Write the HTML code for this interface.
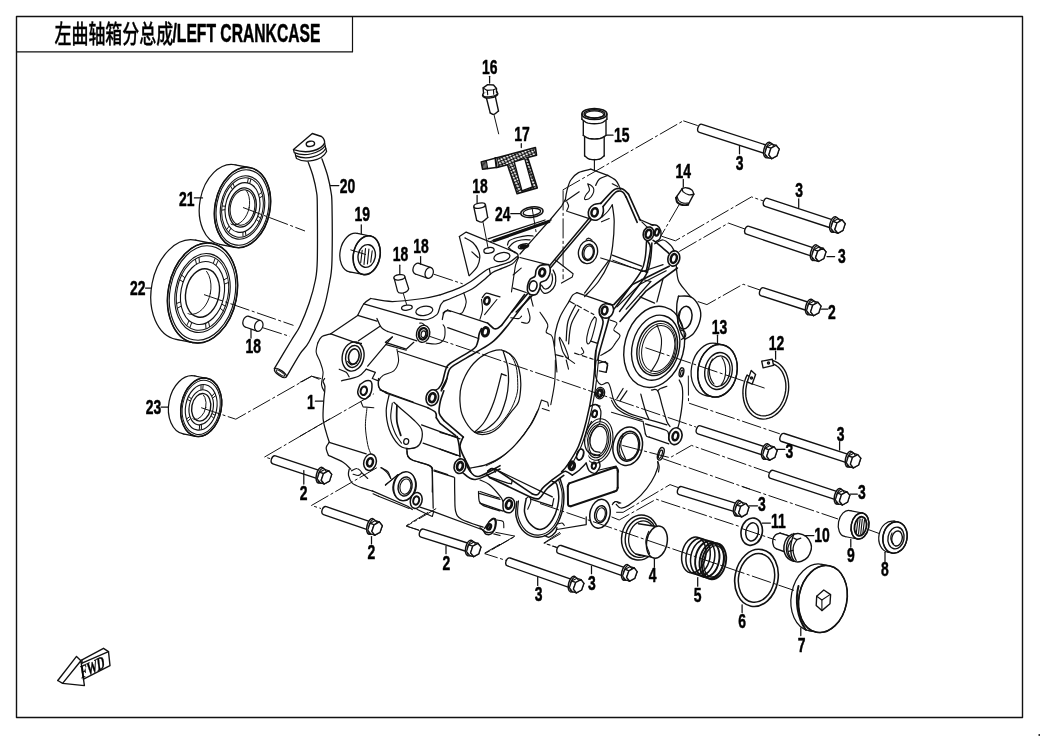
<!DOCTYPE html>
<html><head><meta charset="utf-8"><title>左曲轴箱分总成/LEFT CRANKCASE</title>
<style>
html,body{margin:0;padding:0;background:#fff;}
body{width:1040px;height:736px;overflow:hidden;}
svg{display:block;will-change:transform;}
svg *{stroke:#111;stroke-linecap:round;stroke-linejoin:round;}
svg text{stroke:#000;stroke-width:0.5px;fill:#000;font-family:"Liberation Sans","Noto Sans CJK SC",sans-serif;font-weight:bold;}
.cl{stroke-dasharray:20 2.5 3 2.5;stroke-linecap:butt;}
.nf{fill:none;}
</style></head><body>
<svg width="1040" height="736" viewBox="0 0 1040 736" fill="none">
<rect x="16.5" y="16.5" width="1006" height="701" stroke-width="1.4"/>
<path d="M16.5,51.9 H352.5 V16.5" stroke-width="1.2"/>
<text transform="translate(54.5,42.6) scale(0.665,1)" font-size="25.5" style="font-weight:500;stroke-width:0.35px">左曲轴箱分总成</text>
<text transform="translate(172.5,41.8) scale(0.622,1)" font-size="25.2" style="font-weight:bold">/LEFT CRANKCASE</text>
<rect x="1038.5" y="734" width="1.5" height="2" fill="#333" style="stroke:none"/>
<path d="M62.6,683.4 L80.9,660.8 L84.4,685.6 Z" fill="#fff" stroke-width="1.38"/>
<path d="M57.8,680.5 L76.5,656.4 L80.9,660.8" fill="none" stroke-width="1.38"/>
<path d="M57.8,680.5 L62.6,683.4" fill="none" stroke-width="1.38"/>
<path d="M82.0,663.2 L108.5,651.6 L110.0,665.6 L83.5,679.2" fill="none" stroke-width="1.38"/>
<path d="M76.5,656.4 L81.3,658.8" fill="none" stroke-width="0.00"/>
<path d="M82.0,659.8 L103.5,648.3 L108.5,651.6" fill="none" stroke-width="1.38"/>
<path d="M82.0,659.8 L82.0,663.2" fill="none" stroke-width="1.38"/>
<text transform="translate(81.5,678.6) rotate(-25) skewX(-18) scale(0.64,1)" font-size="17.5" style="font-family:'Liberation Serif',serif;font-weight:bold;stroke-width:0.4px">FWD</text>
<ellipse cx="185.8" cy="289.8" rx="34.3" ry="50.5" transform="rotate(11.0 185.8 289.8)" fill="#fff" stroke-width="1.25"/>
<path d="M192.9,342.6 L176.2,339.3 L195.4,240.2 L212.1,243.4 Z" fill="#fff" style="stroke:none"/>
<line x1="192.9" y1="342.6" x2="176.2" y2="339.3" stroke-width="1.25"/>
<line x1="212.1" y1="243.4" x2="195.4" y2="240.2" stroke-width="1.25"/>
<ellipse cx="202.5" cy="293.0" rx="34.3" ry="50.5" transform="rotate(11.0 202.5 293.0)" fill="#fff" stroke-width="1.25"/>
<ellipse cx="202.5" cy="293.0" rx="34.3" ry="50.5" transform="rotate(11.0 202.5 293.0)" fill="none" stroke-width="1.50" />
<ellipse cx="202.5" cy="293.0" rx="32.5" ry="47.7" transform="rotate(11.0 202.5 293.0)" fill="none" stroke-width="1.12" />
<ellipse cx="202.5" cy="293.0" rx="27.1" ry="39.9" transform="rotate(11.0 202.5 293.0)" fill="none" stroke-width="1.12" />
<ellipse cx="202.5" cy="293.0" rx="25.6" ry="37.6" transform="rotate(11.0 202.5 293.0)" fill="none" stroke-width="1.00" />
<ellipse cx="202.5" cy="293.0" rx="21.6" ry="31.8" transform="rotate(11.0 202.5 293.0)" fill="none" stroke-width="1.12" />
<ellipse cx="202.5" cy="293.0" rx="16.7" ry="24.5" transform="rotate(11.0 202.5 293.0)" fill="none" stroke-width="1.38" />
<line x1="222.1" y1="304.3" x2="225.2" y2="306.1" stroke-width="1.00"/>
<line x1="220.4" y1="308.4" x2="223.2" y2="310.8" stroke-width="1.00"/>
<line x1="208.6" y1="322.2" x2="209.6" y2="326.7" stroke-width="1.00"/>
<line x1="205.6" y1="323.7" x2="206.0" y2="328.5" stroke-width="1.00"/>
<line x1="191.6" y1="322.9" x2="189.9" y2="327.6" stroke-width="1.00"/>
<line x1="188.9" y1="321.1" x2="186.8" y2="325.4" stroke-width="1.00"/>
<line x1="180.9" y1="306.2" x2="177.5" y2="308.2" stroke-width="1.00"/>
<line x1="180.3" y1="302.0" x2="176.8" y2="303.4" stroke-width="1.00"/>
<line x1="182.9" y1="281.7" x2="179.8" y2="279.9" stroke-width="1.00"/>
<line x1="184.6" y1="277.6" x2="181.8" y2="275.2" stroke-width="1.00"/>
<line x1="196.4" y1="263.8" x2="195.4" y2="259.3" stroke-width="1.00"/>
<line x1="199.4" y1="262.3" x2="199.0" y2="257.5" stroke-width="1.00"/>
<line x1="213.4" y1="263.1" x2="215.1" y2="258.4" stroke-width="1.00"/>
<line x1="216.1" y1="264.9" x2="218.2" y2="260.6" stroke-width="1.00"/>
<line x1="224.1" y1="279.8" x2="227.5" y2="277.8" stroke-width="1.00"/>
<line x1="224.7" y1="284.0" x2="228.2" y2="282.6" stroke-width="1.00"/>
<clipPath id="c202_293"><ellipse cx="202.5" cy="293.0" rx="16.7" ry="24.5" transform="rotate(11 202.5 293.0)"/></clipPath>
<ellipse cx="194.0" cy="290.1" rx="16.7" ry="24.5" transform="rotate(11 194.0 290.1)" clip-path="url(#c202_293)" stroke-width="0.9"/>
<line x1="204.0" y1="294.6" x2="293.5" y2="325.4" stroke-width="1.00" class="cl"/>
<text transform="translate(130.0,295.0) scale(0.68,1)" font-size="20.5" text-anchor="start">22</text>
<line x1="145.5" y1="288.0" x2="151.0" y2="288.0" stroke-width="1.25"/>
<ellipse cx="227.3" cy="204.5" rx="27.5" ry="40.5" transform="rotate(11.0 227.3 204.5)" fill="#fff" stroke-width="1.25"/>
<path d="M234.8,247.3 L219.6,244.3 L235.0,164.8 L250.2,167.7 Z" fill="#fff" style="stroke:none"/>
<line x1="234.8" y1="247.3" x2="219.6" y2="244.3" stroke-width="1.25"/>
<line x1="250.2" y1="167.7" x2="235.0" y2="164.8" stroke-width="1.25"/>
<ellipse cx="242.5" cy="207.5" rx="27.5" ry="40.5" transform="rotate(11.0 242.5 207.5)" fill="#fff" stroke-width="1.25"/>
<ellipse cx="242.5" cy="207.5" rx="27.5" ry="40.5" transform="rotate(11.0 242.5 207.5)" fill="none" stroke-width="1.50" />
<ellipse cx="242.5" cy="207.5" rx="25.9" ry="38.1" transform="rotate(11.0 242.5 207.5)" fill="none" stroke-width="1.12" />
<ellipse cx="242.5" cy="207.5" rx="21.8" ry="32.0" transform="rotate(11.0 242.5 207.5)" fill="none" stroke-width="1.12" />
<ellipse cx="242.5" cy="207.5" rx="20.4" ry="30.0" transform="rotate(11.0 242.5 207.5)" fill="none" stroke-width="1.00" />
<ellipse cx="242.5" cy="207.5" rx="17.1" ry="25.1" transform="rotate(11.0 242.5 207.5)" fill="none" stroke-width="1.12" />
<ellipse cx="242.5" cy="207.5" rx="13.5" ry="19.8" transform="rotate(11.0 242.5 207.5)" fill="none" stroke-width="1.38" />
<line x1="258.0" y1="216.4" x2="260.4" y2="217.9" stroke-width="1.00"/>
<line x1="256.6" y1="219.6" x2="258.9" y2="221.6" stroke-width="1.00"/>
<line x1="245.4" y1="231.5" x2="245.9" y2="235.4" stroke-width="1.00"/>
<line x1="242.9" y1="232.4" x2="243.0" y2="236.3" stroke-width="1.00"/>
<line x1="230.7" y1="228.6" x2="228.8" y2="231.9" stroke-width="1.00"/>
<line x1="228.9" y1="226.4" x2="226.8" y2="229.4" stroke-width="1.00"/>
<line x1="224.8" y1="209.7" x2="222.0" y2="210.1" stroke-width="1.00"/>
<line x1="225.1" y1="206.2" x2="222.4" y2="206.0" stroke-width="1.00"/>
<line x1="232.3" y1="189.2" x2="230.7" y2="186.3" stroke-width="1.00"/>
<line x1="234.4" y1="186.9" x2="233.1" y2="183.7" stroke-width="1.00"/>
<line x1="247.5" y1="182.5" x2="248.3" y2="178.5" stroke-width="1.00"/>
<line x1="249.8" y1="183.2" x2="250.9" y2="179.3" stroke-width="1.00"/>
<line x1="258.9" y1="194.6" x2="261.5" y2="192.5" stroke-width="1.00"/>
<line x1="259.7" y1="197.8" x2="262.4" y2="196.2" stroke-width="1.00"/>
<clipPath id="c242_207"><ellipse cx="242.5" cy="207.5" rx="13.5" ry="19.8" transform="rotate(11 242.5 207.5)"/></clipPath>
<ellipse cx="235.9" cy="205.2" rx="13.5" ry="19.8" transform="rotate(11 235.9 205.2)" clip-path="url(#c242_207)" stroke-width="0.9"/>
<ellipse cx="242.5" cy="207.5" rx="12.1" ry="17.8" transform="rotate(11.0 242.5 207.5)" fill="none" stroke-width="1.00" />
<line x1="243.0" y1="207.5" x2="305.0" y2="231.0" stroke-width="1.00" class="cl"/>
<text transform="translate(179.0,205.5) scale(0.68,1)" font-size="20.5" text-anchor="start">21</text>
<line x1="194.4" y1="197.9" x2="202.5" y2="197.9" stroke-width="1.25"/>
<ellipse cx="188.9" cy="404.9" rx="20.1" ry="29.5" transform="rotate(11.0 188.9 404.9)" fill="#fff" stroke-width="1.25"/>
<path d="M195.6,436.3 L183.3,433.9 L194.6,376.0 L206.8,378.3 Z" fill="#fff" style="stroke:none"/>
<line x1="195.6" y1="436.3" x2="183.3" y2="433.9" stroke-width="1.25"/>
<line x1="206.8" y1="378.3" x2="194.6" y2="376.0" stroke-width="1.25"/>
<ellipse cx="201.2" cy="407.3" rx="20.1" ry="29.5" transform="rotate(11.0 201.2 407.3)" fill="#fff" stroke-width="1.25"/>
<ellipse cx="201.2" cy="407.3" rx="20.1" ry="29.5" transform="rotate(11.0 201.2 407.3)" fill="none" stroke-width="1.50" />
<ellipse cx="201.2" cy="407.3" rx="18.7" ry="27.4" transform="rotate(11.0 201.2 407.3)" fill="none" stroke-width="1.00" />
<ellipse cx="201.2" cy="407.3" rx="15.6" ry="23.0" transform="rotate(11.0 201.2 407.3)" fill="none" stroke-width="1.12" />
<ellipse cx="201.2" cy="407.3" rx="12.0" ry="17.7" transform="rotate(11.0 201.2 407.3)" fill="none" stroke-width="1.12" />
<ellipse cx="201.2" cy="407.3" rx="9.4" ry="13.9" transform="rotate(11.0 201.2 407.3)" fill="none" stroke-width="1.38" />
<line x1="212.3" y1="413.7" x2="214.8" y2="415.1" stroke-width="1.00"/>
<line x1="211.3" y1="416.0" x2="213.6" y2="418.0" stroke-width="1.00"/>
<line x1="201.4" y1="425.2" x2="201.4" y2="429.2" stroke-width="1.00"/>
<line x1="199.6" y1="425.4" x2="199.3" y2="429.5" stroke-width="1.00"/>
<line x1="190.3" y1="418.8" x2="187.8" y2="421.4" stroke-width="1.00"/>
<line x1="189.5" y1="416.7" x2="186.9" y2="418.8" stroke-width="1.00"/>
<line x1="190.1" y1="400.9" x2="187.6" y2="399.5" stroke-width="1.00"/>
<line x1="191.1" y1="398.6" x2="188.8" y2="396.6" stroke-width="1.00"/>
<line x1="201.0" y1="389.4" x2="201.0" y2="385.4" stroke-width="1.00"/>
<line x1="202.8" y1="389.2" x2="203.1" y2="385.1" stroke-width="1.00"/>
<line x1="212.1" y1="395.8" x2="214.6" y2="393.2" stroke-width="1.00"/>
<line x1="212.9" y1="397.9" x2="215.5" y2="395.8" stroke-width="1.00"/>
<clipPath id="c201_407"><ellipse cx="201.2" cy="407.3" rx="9.4" ry="13.9" transform="rotate(11 201.2 407.3)"/></clipPath>
<ellipse cx="196.5" cy="405.7" rx="9.4" ry="13.9" transform="rotate(11 196.5 405.7)" clip-path="url(#c201_407)" stroke-width="0.9"/>
<path d="M201.2,407.7 L235.8,419.2 L311.7,376.2 L319.4,379.4" fill="none" stroke-width="1.00" class="cl"/>
<text transform="translate(145.8,414.0) scale(0.68,1)" font-size="20.5" text-anchor="start">23</text>
<line x1="161.0" y1="407.0" x2="168.5" y2="407.0" stroke-width="1.25"/>
<path d="M308.1,161.9 C308.9,164.2 311.6,171.0 313.0,176.0 C314.4,181.0 315.8,187.2 316.5,192.0 C317.2,196.8 317.2,193.7 317.3,205.0 C317.4,216.3 317.6,247.5 317.3,260.0 C317.0,272.5 316.8,272.8 315.4,280.0 C314.0,287.2 311.8,295.3 309.2,303.0 C306.6,310.7 302.9,319.8 300.0,326.0 C297.1,332.2 295.8,332.9 291.5,340.0 C287.2,347.1 277.1,364.0 274.2,368.8" stroke-width="1.3"/>
<path d="M321.9,158.8 C322.9,161.7 326.2,170.5 327.7,176.0 C329.2,181.5 330.3,187.2 331.0,192.0 C331.7,196.8 331.8,193.7 332.0,205.0 C332.2,216.3 332.3,247.5 332.0,260.0 C331.7,272.5 331.5,271.5 330.0,280.0 C328.5,288.5 326.5,300.6 323.0,310.8 C319.5,321.1 313.0,334.3 309.2,341.5 C305.4,348.7 303.8,347.9 300.0,353.8 C296.2,359.7 288.7,373.0 286.4,376.8" stroke-width="1.3"/>
<ellipse cx="280.4" cy="373.0" rx="2.6" ry="7.0" transform="rotate(-55.0 280.4 373.0)" fill="none" stroke-width="1.25" />
<ellipse cx="280.4" cy="373.0" rx="1.4" ry="5.0" transform="rotate(-55.0 280.4 373.0)" fill="none" stroke-width="1.00" />
<path d="M293.5,149.6 L312.3,133.5 L321.5,136.5 C323.5,138 324.8,140.5 324.6,143.1 C321,150 308,154.5 293.5,149.6 Z" fill="#fff" stroke-width="1.38"/>
<path d="M293.5,149.6 L294.2,152.7 C305,157 319,153.5 325.2,145.8 L324.6,143.1" fill="none" stroke-width="1.25"/>
<path d="M295.2,153.3 L295.6,155.6 C306,160.5 321,156.5 325.8,148.5 L325.2,145.8" fill="none" stroke-width="1.25"/>
<path d="M295.6,155.6 L296.5,158.5 C306,164 322,160.5 326.6,151.5 L325.8,148.5" fill="none" stroke-width="1.25"/>
<ellipse cx="310.4" cy="143.8" rx="4.2" ry="2.6" transform="rotate(-10.0 310.4 143.8)" fill="none" stroke-width="1.38" />
<text transform="translate(339.8,192.7) scale(0.68,1)" font-size="20.5" text-anchor="start">20</text>
<line x1="330.4" y1="185.6" x2="338.8" y2="185.6" stroke-width="1.25"/>
<ellipse cx="353.4" cy="252.6" rx="13.3" ry="19.6" transform="rotate(11.0 353.4 252.6)" fill="#fff" stroke-width="1.25"/>
<path d="M363.0,274.4 L349.7,271.9 L357.2,233.4 L370.4,236.0 Z" fill="#fff" style="stroke:none"/>
<line x1="363.0" y1="274.4" x2="349.7" y2="271.9" stroke-width="1.25"/>
<line x1="370.4" y1="236.0" x2="357.2" y2="233.4" stroke-width="1.25"/>
<ellipse cx="366.7" cy="255.2" rx="13.3" ry="19.6" transform="rotate(11.0 366.7 255.2)" fill="#fff" stroke-width="1.25"/>
<ellipse cx="366.7" cy="255.2" rx="13.3" ry="19.6" transform="rotate(11.0 366.7 255.2)" fill="none" stroke-width="1.50" />
<ellipse cx="366.7" cy="256.0" rx="8.6" ry="11.5" transform="rotate(11.0 366.7 256.0)" fill="none" stroke-width="1.38" />
<line x1="362.2" y1="250.2" x2="360.7" y2="262.8" stroke-width="1.12"/>
<line x1="365.5" y1="248.6" x2="364.0" y2="264.4" stroke-width="1.12"/>
<line x1="368.9" y1="249.1" x2="367.4" y2="263.9" stroke-width="1.12"/>
<line x1="372.2" y1="250.8" x2="370.7" y2="262.2" stroke-width="1.12"/>
<line x1="350.4" y1="249.8" x2="366.0" y2="254.6" stroke-width="1.00" class="cl"/>
<text transform="translate(354.6,221.0) scale(0.68,1)" font-size="20.5" text-anchor="start">19</text>
<line x1="361.3" y1="224.8" x2="361.3" y2="233.5" stroke-width="1.25"/>
<ellipse cx="247.0" cy="321.7" rx="4.0" ry="5.6" transform="rotate(19.0 247.0 321.7)" fill="#fff" stroke-width="1.25"/>
<path d="M257.0,331.1 L245.2,327.0 L248.8,316.4 L260.6,320.5 Z" fill="#fff" style="stroke:none"/>
<line x1="257.0" y1="331.1" x2="245.2" y2="327.0" stroke-width="1.25"/>
<line x1="260.6" y1="320.5" x2="248.8" y2="316.4" stroke-width="1.25"/>
<ellipse cx="258.8" cy="325.8" rx="4.0" ry="5.6" transform="rotate(19.0 258.8 325.8)" fill="#fff" stroke-width="1.25"/>
<line x1="262.7" y1="327.7" x2="289.6" y2="336.3" stroke-width="1.00" class="cl"/>
<text transform="translate(245.4,353.0) scale(0.68,1)" font-size="20.5" text-anchor="start">18</text>
<line x1="251.0" y1="329.6" x2="251.0" y2="338.0" stroke-width="1.25"/>
<ellipse cx="417.1" cy="268.7" rx="4.0" ry="5.6" transform="rotate(19.0 417.1 268.7)" fill="#fff" stroke-width="1.25"/>
<path d="M427.4,278.2 L415.3,274.0 L418.9,263.4 L431.0,267.6 Z" fill="#fff" style="stroke:none"/>
<line x1="427.4" y1="278.2" x2="415.3" y2="274.0" stroke-width="1.25"/>
<line x1="431.0" y1="267.6" x2="418.9" y2="263.4" stroke-width="1.25"/>
<ellipse cx="429.2" cy="272.9" rx="4.0" ry="5.6" transform="rotate(19.0 429.2 272.9)" fill="#fff" stroke-width="1.25"/>
<text transform="translate(413.3,253.0) scale(0.68,1)" font-size="20.5" text-anchor="start">18</text>
<line x1="420.6" y1="256.5" x2="420.6" y2="264.2" stroke-width="1.25"/>
<path d="M394,277.7 L397.5,291.2 C399,294.5 407,293.5 408.7,288.8 L404.8,276.7" fill="#fff" stroke-width="1.25"/>
<ellipse cx="399.4" cy="277.3" rx="5.5" ry="2.6" transform="rotate(-8.0 399.4 277.3)" fill="#fff" stroke-width="1.25" />
<line x1="403.3" y1="293.4" x2="406.6" y2="304.5" stroke-width="1.00"/>
<text transform="translate(392.7,261.3) scale(0.68,1)" font-size="20.5" text-anchor="start">18</text>
<line x1="399.8" y1="265.2" x2="399.8" y2="273.8" stroke-width="1.25"/>
<path d="M459.4,236.6 L466.2,232.1 L515.0,252.2" fill="none" stroke-width="1.25"/>
<path d="M515.0,252.2 C515.5,252.6 517.2,253.5 517.8,254.4 C518.3,255.2 518.1,257.0 518.1,257.5" fill="none" stroke-width="1.25"/>
<path d="M459.4,236.6 L469.0,275.6" fill="none" stroke-width="1.25"/>
<path d="M465.0,237.9 C466.3,238.6 470.6,240.5 472.8,242.5 C474.9,244.5 477.0,247.5 478.1,250.0 C479.3,252.5 479.9,254.8 479.8,257.5 C479.6,260.2 479.2,263.2 477.5,266.2 C475.8,269.3 470.7,274.1 469.4,275.6" fill="none" stroke-width="1.25"/>
<path d="M471.9,251.9 L478.1,257.5" fill="none" stroke-width="1.25"/>
<path d="M517.5,256.2 C516.2,257.2 513.1,260.3 510.0,261.9 C506.9,263.4 502.3,264.5 498.8,265.6 C495.2,266.8 491.7,267.4 488.8,268.8 C485.8,270.1 484.2,271.7 481.2,273.8 C478.3,275.8 475.0,278.9 471.2,281.2 C467.5,283.6 464.0,285.8 458.8,288.1 C453.5,290.4 443.1,293.9 440.0,295.0" fill="none" stroke-width="1.25"/>
<path d="M518.1,257.5 C517.2,258.5 515.1,262.0 512.5,263.8 C509.9,265.5 505.8,266.7 502.5,268.1 C499.2,269.6 495.6,270.5 492.5,272.5 C489.4,274.5 487.1,277.3 483.8,280.0 C480.4,282.7 477.1,286.0 472.5,288.8 C467.9,291.5 461.0,294.2 456.2,296.2 C451.5,298.3 445.8,300.4 443.8,301.2" fill="none" stroke-width="1.25"/>
<path d="M489.4,269.4 L490.4,274.4" fill="none" stroke-width="1.25"/>
<ellipse cx="489.0" cy="250.4" rx="5.2" ry="2.8" transform="rotate(-10.0 489.0 250.4)" fill="none" stroke-width="1.25"/>
<ellipse cx="501.9" cy="257.1" rx="8.1" ry="4.4" transform="rotate(-12.0 501.9 257.1)" fill="none" stroke-width="1.25"/>
<path d="M483.1,222.5 L488.1,248.1" fill="none" stroke-width="1.00"/>
<path d="M488.1,238.8 L545.0,220.0" fill="none" stroke-width="1.25"/>
<path d="M490.6,241.5 L551.2,220.0" fill="none" stroke-width="1.25"/>
<path d="M494.0,240.8 L548.8,221.5" fill="none" stroke-width="3.25"/>
<ellipse cx="523.5" cy="246.2" rx="5.2" ry="2.1" transform="rotate(-15.0 523.5 246.2)" fill="none" stroke-width="1.50"/>
<ellipse cx="523.5" cy="246.5" rx="2.8" ry="1.0" transform="rotate(-15.0 523.5 246.5)" fill="none" stroke-width="2.00"/>
<path d="M507.5,245.0 C507.8,244.3 507.7,241.9 509.4,240.6 C511.0,239.4 514.5,238.3 517.5,237.5 C520.5,236.7 524.9,235.9 527.5,235.6 C530.1,235.4 532.2,235.9 533.1,236.0" fill="none" stroke-width="1.25"/>
<path d="M508.5,247.8 C509.4,246.9 511.6,243.8 513.8,242.5 C515.9,241.2 518.5,240.5 521.2,240.0 C524.0,239.5 528.5,239.8 530.0,239.8" fill="none" stroke-width="1.25"/>
<path d="M515.0,252.8 C514.4,252.3 512.3,250.8 511.2,250.0 C510.2,249.2 509.0,248.1 508.5,247.8" fill="none" stroke-width="1.25"/>
<path d="M520.0,254.0 L535.0,236.9 L550.0,220.0 L561.8,205.8 L565.0,200.0" fill="none" stroke-width="1.25"/>
<path d="M520.0,257.5 L547.5,264.6" fill="none" stroke-width="1.25"/>
<path d="M518.5,257.5 C518.0,258.8 516.4,262.1 515.6,265.0 C514.9,267.9 514.7,270.5 514.0,275.0 C513.3,279.5 511.9,289.1 511.5,291.9" fill="none" stroke-width="1.12"/>
<path d="M513.1,275.0 L521.2,268.1" fill="none" stroke-width="1.12"/>
<path d="M513.1,288.1 L526.2,292.5" fill="none" stroke-width="1.25"/>
<path d="M547.5,264.6 C546.0,264.7 541.9,264.7 540.0,265.6 C538.1,266.5 537.1,268.2 536.2,270.0 C535.4,271.8 536.0,274.7 535.0,276.2 C534.0,277.8 531.2,277.7 530.0,279.4 C528.8,281.0 527.8,284.1 527.5,286.2 C527.2,288.4 527.4,291.0 528.1,292.5 C528.9,294.0 530.4,294.8 531.9,295.0 C533.3,295.2 535.5,295.0 536.9,293.8 C538.2,292.5 539.4,289.4 540.0,287.5 C540.6,285.6 539.6,283.8 540.6,282.5 C541.7,281.2 544.8,281.2 546.2,280.0 C547.7,278.8 548.7,276.9 549.4,275.0 C550.0,273.1 550.4,270.4 550.2,268.8 C550.1,267.1 549.2,265.7 548.8,265.0 C548.3,264.3 549.0,264.5 547.5,264.6 Z" fill="#fff" stroke-width="1.62"/>
<ellipse cx="542.2" cy="272.5" rx="2.8" ry="3.8" transform="rotate(15.0 542.2 272.5)" fill="none" stroke-width="2.75"/>
<ellipse cx="533.1" cy="286.0" rx="3.8" ry="5.2" transform="rotate(15.0 533.1 286.0)" fill="none" stroke-width="1.62"/>
<path d="M540.0,288.1 C540.6,289.0 542.1,292.6 543.8,293.1 C545.4,293.7 548.1,292.9 550.0,291.5 C551.9,290.1 554.1,287.5 555.0,285.0 C555.9,282.5 555.9,278.8 555.6,276.2 C555.3,273.8 553.5,271.0 553.1,270.0" fill="none" stroke-width="1.25"/>
<path d="M541.5,285.2 C542.1,285.9 543.6,288.8 545.0,289.0 C546.4,289.2 548.8,288.0 550.0,286.5 C551.2,285.0 552.2,282.1 552.5,280.0 C552.8,277.9 552.0,274.8 551.9,273.8" fill="none" stroke-width="1.25"/>
<path d="M511.9,312.0 L527.5,293.8" fill="none" stroke-width="1.62"/>
<path d="M516.2,312.0 L532.8,295.0" fill="none" stroke-width="1.62"/>
<path d="M530.6,296.5 L533.1,306.2" fill="none" stroke-width="1.12"/>
<path d="M565.4,199.7 C565.6,198.2 566.0,194.1 566.9,190.8 C567.8,187.5 568.8,183.0 570.8,180.0 C572.7,177.0 575.1,174.4 578.5,172.6 C581.8,170.8 588.7,169.8 590.8,169.2" fill="none" stroke-width="1.25"/>
<path d="M590.8,169.2 L607.7,175.4" fill="none" stroke-width="1.25"/>
<path d="M607.7,175.4 C609.0,176.2 613.5,178.2 615.4,180.0 C617.3,181.8 618.4,184.6 619.2,186.2 C620.1,187.7 620.1,189.0 620.3,189.5" fill="none" stroke-width="1.25"/>
<path d="M595.7,185.4 C596.3,184.4 597.2,180.9 599.2,179.2 C601.2,177.6 606.3,176.0 607.7,175.4" fill="none" stroke-width="1.25"/>
<path d="M612.3,183.8 L617.7,186.5" fill="none" stroke-width="1.25"/>
<path d="M587.7,183.8 C588.3,184.2 590.5,184.9 591.5,185.8 C592.6,186.7 593.7,187.8 593.8,189.2 C594.0,190.7 593.4,193.0 592.6,194.6 C591.8,196.2 590.3,198.0 588.9,198.8 C587.6,199.5 585.1,199.9 584.6,199.2 C584.2,198.5 585.3,196.2 586.2,194.6 C587.0,193.1 589.3,191.8 589.5,190.0 C589.8,188.2 588.0,184.9 587.7,183.8" fill="none" stroke-width="1.12"/>
<path d="M565.4,201.2 L579.2,191.8" fill="none" stroke-width="1.25"/>
<path d="M566.9,201.8 C567.2,202.6 568.7,204.6 568.6,206.2 C568.5,207.7 566.8,210.3 566.5,211.1" fill="none" stroke-width="1.12"/>
<path d="M567.7,211.5 L590.8,219.2" fill="none" stroke-width="1.25"/>
<path d="M600.8,203.4 C602.7,201.3 609.6,193.5 612.3,191.1 C615.0,188.6 615.1,188.9 616.9,188.6 C618.7,188.3 621.2,188.3 623.1,189.2 C625.0,190.2 627.6,193.3 628.5,194.2" fill="none" stroke-width="1.62"/>
<path d="M628.5,194.2 L640.3,220.3" fill="none" stroke-width="1.62"/>
<path d="M603.1,206.5 C604.9,204.3 611.6,196.1 614.2,193.5 C616.7,191.0 617.0,191.3 618.5,191.1 C619.9,190.9 621.8,191.3 623.1,192.3 C624.4,193.3 625.6,196.4 626.2,197.2" fill="none" stroke-width="1.62"/>
<path d="M626.2,197.2 L637.2,222.3" fill="none" stroke-width="1.62"/>
<path d="M600.8,203.4 C599.6,203.6 595.8,203.6 593.8,204.6 C591.9,205.6 590.1,207.4 589.2,209.2 C588.3,211.0 588.1,213.7 588.5,215.4 C588.8,217.1 590.1,218.6 591.5,219.4 C593.0,220.2 595.6,220.4 597.2,220.0 C598.9,219.6 600.5,218.3 601.5,216.9 C602.6,215.5 603.1,213.3 603.4,211.5 C603.6,209.8 603.1,207.3 603.1,206.5" fill="none" stroke-width="1.62"/>
<ellipse cx="594.6" cy="212.3" rx="3.1" ry="4.2" transform="rotate(15.0 594.6 212.3)" fill="none" stroke-width="2.50"/>
<path d="M589.8,217.4 L549.7,265.5" fill="none" stroke-width="1.50"/>
<path d="M591.4,219.5 L550.6,267.7" fill="none" stroke-width="1.50"/>
<path d="M601.8,217.2 C602.8,216.3 605.9,213.6 607.7,211.5 C609.4,209.5 611.5,206.0 612.3,204.9" fill="none" stroke-width="1.12"/>
<path d="M612.3,204.9 C612.6,207.7 614.1,214.7 614.2,221.5 C614.2,228.4 613.5,239.2 612.6,246.2 C611.7,253.1 611.1,257.2 608.8,263.1 C606.4,269.0 602.5,275.9 598.5,281.5 C594.4,287.1 586.9,294.1 584.6,296.6" fill="none" stroke-width="1.25"/>
<path d="M601.5,221.8 L609.2,218.5" fill="none" stroke-width="1.12"/>
<path d="M650.8,224.6 C651.8,224.7 655.3,224.4 656.9,225.4 C658.6,226.4 660.3,228.6 660.8,230.8 C661.3,232.9 660.9,236.6 660.0,238.5 C659.1,240.3 656.2,241.3 655.4,241.8" fill="none" stroke-width="1.50"/>
<ellipse cx="656.9" cy="232.3" rx="2.0" ry="3.4" transform="rotate(15.0 656.9 232.3)" fill="none" stroke-width="2.25"/>
<ellipse cx="648.5" cy="233.8" rx="5.2" ry="6.9" transform="rotate(15.0 648.5 233.8)" fill="#fff" stroke-width="1.62"/>
<ellipse cx="648.5" cy="233.8" rx="2.8" ry="4.2" transform="rotate(15.0 648.5 233.8)" fill="none" stroke-width="2.50"/>
<path d="M639.2,219.2 L653.1,225.4" fill="none" stroke-width="1.25"/>
<path d="M641.8,221.8 L647.7,227.7" fill="none" stroke-width="1.12"/>
<ellipse cx="673.8" cy="258.5" rx="5.8" ry="7.7" transform="rotate(15.0 673.8 258.5)" fill="#fff" stroke-width="1.62"/>
<ellipse cx="673.8" cy="258.5" rx="2.9" ry="4.5" transform="rotate(15.0 673.8 258.5)" fill="none" stroke-width="2.50"/>
<path d="M653.1,240.3 C654.0,241.0 655.9,242.2 658.5,244.3 C661.0,246.4 666.8,251.6 668.5,253.1" fill="none" stroke-width="1.62"/>
<path d="M647.7,241.5 C648.2,242.7 650.7,243.4 650.5,248.5 C650.2,253.5 646.9,268.1 646.2,272.0" fill="none" stroke-width="1.62"/>
<path d="M654.6,243.8 C656.0,243.2 660.4,239.7 663.1,240.0 C665.8,240.3 668.9,243.6 670.8,245.4 C672.6,247.2 673.6,249.9 674.2,250.8" fill="none" stroke-width="1.25"/>
<ellipse cx="588.0" cy="252.0" rx="9.5" ry="11.7" transform="rotate(12.0 588.0 252.0)" fill="none" stroke-width="1.38"/>
<ellipse cx="588.3" cy="252.3" rx="5.8" ry="8.2" transform="rotate(12.0 588.3 252.3)" fill="none" stroke-width="1.50"/>
<ellipse cx="588.6" cy="252.6" rx="4.6" ry="6.9" transform="rotate(12.0 588.6 252.6)" fill="none" stroke-width="1.25"/>
<path d="M586.2,239.4 C586.7,239.2 588.3,238.0 589.2,238.2 C590.2,238.3 591.5,239.9 592.0,240.3" fill="none" stroke-width="1.12"/>
<path d="M600.8,258.0 L647.7,272.3" fill="none" stroke-width="1.25"/>
<path d="M612.3,255.1 L641.5,266.2" fill="none" stroke-width="1.25"/>
<clipPath id="cpbore"><path d="M622,300 L700,290 L700,420 L600,420 L608,372 L612,340 Z"/></clipPath>
<g clip-path="url(#cpbore)">
<ellipse cx="654.2" cy="346.9" rx="29.5" ry="41.2" transform="rotate(15.0 654.2 346.9)" fill="none" stroke-width="1.38"/>
<ellipse cx="655.7" cy="347.7" rx="23.4" ry="33.1" transform="rotate(15.0 655.7 347.7)" fill="none" stroke-width="1.38"/>
<ellipse cx="657.2" cy="348.2" rx="19.7" ry="27.7" transform="rotate(15.0 657.2 348.2)" fill="none" stroke-width="1.50"/>
<ellipse cx="657.5" cy="348.5" rx="17.8" ry="25.5" transform="rotate(15.0 657.5 348.5)" fill="none" stroke-width="1.00"/>
<ellipse cx="658.2" cy="348.5" rx="16.0" ry="23.4" transform="rotate(15.0 658.2 348.5)" fill="none" stroke-width="1.00"/>
</g>
<path d="M656.9,324.6 C657.7,327.2 661.3,334.4 661.5,340.0 C661.8,345.6 660.3,353.1 658.5,358.5 C656.7,363.8 652.1,369.7 650.8,372.0" fill="none" stroke-width="1.12"/>
<path d="M612.3,304.9 C611.2,304.7 607.3,303.5 605.4,303.7 C603.5,303.9 601.8,304.7 600.8,306.2 C599.7,307.6 599.0,310.5 599.2,312.3 C599.5,314.2 600.6,316.4 602.3,317.2 C604.0,318.1 607.4,318.3 609.2,317.2 C611.1,316.2 613.0,312.8 613.5,310.8 C614.1,308.7 612.5,305.9 612.3,304.9" fill="#fff" stroke-width="1.62"/>
<ellipse cx="604.6" cy="310.5" rx="2.8" ry="4.0" transform="rotate(15.0 604.6 310.5)" fill="none" stroke-width="2.50"/>
<path d="M669.2,266.2 L638.5,281.5 L632.3,284.6 L613.8,304.6" fill="none" stroke-width="1.62"/>
<path d="M677.4,268.0 L646.2,290.8 L620.0,321.5" fill="none" stroke-width="1.62"/>
<path d="M666.2,270.8 L640.0,284.3 L616.9,306.9" fill="none" stroke-width="1.25"/>
<path d="M650.8,281.5 L626.2,309.2" fill="none" stroke-width="1.25"/>
<path d="M641.5,279.2 L650.8,281.5" fill="none" stroke-width="1.12"/>
<path d="M569.2,301.1 C569.8,300.1 571.3,296.5 572.6,295.1 C573.9,293.7 576.2,293.0 576.9,292.6" fill="none" stroke-width="1.25"/>
<path d="M576.9,292.6 L612.3,304.9" fill="none" stroke-width="1.25"/>
<path d="M584.6,293.1 L608.5,260.8" fill="none" stroke-width="1.25"/>
<path d="M569.2,301.1 C567.7,303.7 562.3,311.7 560.0,316.9 C557.7,322.1 556.3,327.4 555.4,332.3 C554.5,337.2 554.7,343.8 554.6,346.2" fill="none" stroke-width="1.25"/>
<path d="M575.7,304.9 C574.4,307.7 569.6,315.6 568.0,321.5 C566.4,327.5 566.5,337.6 566.2,340.8" fill="none" stroke-width="1.25"/>
<path d="M578.8,309.5 C577.5,312.1 572.8,318.9 571.1,324.6 C569.4,330.3 569.0,340.6 568.6,343.8" fill="none" stroke-width="1.25"/>
<g stroke-dasharray="5 3">
<path d="M570.0,301.5 L593.8,314.6" fill="none" stroke-width="1.12"/>
<path d="M574.6,353.1 L593.1,359.2" fill="none" stroke-width="1.12"/>
</g>
<path d="M594.6,316.9 C594.0,317.9 592.1,319.7 590.8,323.1 C589.5,326.4 587.4,333.5 586.9,336.9 C586.4,340.4 587.0,343.3 587.7,343.8 C588.4,344.4 589.8,343.2 591.1,340.0 C592.4,336.8 594.5,328.2 595.4,324.6 C596.3,321.1 596.4,320.1 596.3,318.8 C596.2,317.5 594.9,317.2 594.6,316.9" fill="none" stroke-width="1.12"/>
<path d="M590.8,341.1 L597.7,343.4" fill="none" stroke-width="1.12"/>
<path d="M599.7,314.2 C600.3,315.4 602.9,318.5 603.1,321.5 C603.3,324.6 602.0,327.2 600.8,332.3 C599.5,337.4 596.7,345.7 595.7,352.3 C594.7,358.9 594.9,368.7 594.8,372.0" fill="none" stroke-width="1.62"/>
<path d="M609.2,317.2 C608.5,320.0 606.3,328.0 604.6,333.8 C603.0,339.7 600.5,347.9 599.4,352.3 C598.3,356.7 598.1,358.7 597.8,360.0" fill="none" stroke-width="1.62"/>
<path d="M610.0,320.0 C611.2,320.5 616.3,321.4 616.9,323.1 C617.6,324.7 613.3,327.9 613.8,330.0 C614.4,332.1 619.7,333.2 620.0,335.4 C620.3,337.6 616.9,340.8 615.4,343.1 C613.8,345.4 613.2,347.2 610.8,349.2 C608.3,351.3 602.4,354.4 600.8,355.4" fill="none" stroke-width="1.12"/>
<path d="M597.8,360.0 L607.7,363.4 L606.2,372.0" fill="none" stroke-width="1.25"/>
<path d="M540.0,312.3 C541.3,314.4 546.7,321.3 547.7,324.6 C548.7,327.9 545.4,330.3 546.2,332.3 C546.9,334.4 550.8,333.1 552.3,336.9 C553.8,340.8 554.6,349.5 555.4,355.4 C556.2,361.2 556.7,369.2 556.9,372.0" fill="none" stroke-width="1.12"/>
<path d="M559.2,338.5 C559.9,340.8 561.5,349.0 563.1,352.3 C564.6,355.6 568.2,359.5 568.5,358.5 C568.7,357.4 566.0,349.6 564.6,346.2 C563.2,342.7 560.9,339.0 560.0,337.7 C559.1,336.4 559.4,338.3 559.2,338.5" fill="none" stroke-width="1.12"/>
<path d="M555.4,354.6 L563.1,356.6" fill="none" stroke-width="1.12"/>
<path d="M565.4,356.9 L574.6,363.4" fill="none" stroke-width="1.12"/>
<path d="M581.5,347.7 C581.9,348.5 584.0,351.2 583.8,352.3 C583.7,353.5 581.3,354.2 580.8,354.6" fill="none" stroke-width="1.12"/>
<path d="M555.4,260.0 L573.1,273.8 L572.3,276.9 L561.5,283.1" fill="none" stroke-width="1.12"/>
<path d="M676.2,265.4 C676.5,267.9 676.8,276.4 678.5,280.8 C680.1,285.1 684.1,288.8 686.2,291.5 C688.2,294.2 690.0,296.0 690.8,296.9" fill="none" stroke-width="1.25"/>
<path d="M678.5,296.2 C680.5,296.3 687.3,295.1 690.8,296.9 C694.2,298.7 697.6,303.2 699.2,306.9 C700.8,310.6 701.2,314.9 700.3,319.2 C699.4,323.6 696.5,329.7 693.8,333.1 C691.2,336.5 686.2,338.5 684.6,339.5" fill="none" stroke-width="1.38"/>
<path d="M678.5,296.2 C678.2,297.4 677.2,300.8 676.9,303.8 C676.7,306.9 676.4,310.3 676.9,314.6 C677.4,319.0 678.7,325.8 680.0,330.0 C681.3,334.2 683.8,337.9 684.6,339.5" fill="none" stroke-width="1.38"/>
<ellipse cx="684.9" cy="317.7" rx="6.9" ry="11.5" transform="rotate(11.0 684.9 317.7)" fill="none" stroke-width="1.50"/>
<path d="M680.3,311.5 C680.1,312.8 678.9,316.7 679.2,319.2 C679.6,321.8 681.8,325.6 682.3,326.9" fill="none" stroke-width="1.12"/>
<path d="M680.8,330.0 C681.4,330.3 683.8,330.5 684.6,331.5 C685.4,332.6 686.1,334.8 685.5,336.2 C685.0,337.5 682.2,339.0 681.5,339.5" fill="none" stroke-width="1.25"/>
<path d="M663.1,278.5 L656.9,301.8" fill="none" stroke-width="1.25"/>
<path d="M640.0,296.9 L654.6,303.1" fill="none" stroke-width="1.25"/>
<path d="M612.3,260.0 L642.3,271.5" fill="none" stroke-width="1.00" class="cl"/>
<path d="M642.3,271.5 L663.1,264.6" fill="none" stroke-width="1.12"/>
<ellipse cx="423.1" cy="333.8" rx="6.6" ry="8.6" transform="rotate(12.0 423.1 333.8)" fill="#fff" stroke-width="1.38"/>
<ellipse cx="423.1" cy="333.8" rx="4.3" ry="5.8" transform="rotate(12.0 423.1 333.8)" fill="none" stroke-width="2.25"/>
<ellipse cx="423.4" cy="334.2" rx="2.3" ry="3.4" transform="rotate(12.0 423.4 334.2)" fill="none" stroke-width="1.25"/>
<path d="M419.7,323.1 C420.1,323.1 421.6,322.9 422.3,323.2 C423.1,323.5 423.8,324.6 424.2,324.9" fill="none" stroke-width="1.12"/>
<path d="M426.2,343.1 C427.9,343.2 434.0,344.5 436.9,343.8 C439.9,343.2 442.5,341.8 443.8,339.2 C445.2,336.7 445.1,330.9 444.9,328.5 C444.8,326.1 443.4,325.4 443.1,324.8" fill="none" stroke-width="1.12"/>
<path d="M447.7,310.0 L487.7,323.1" fill="none" stroke-width="1.25"/>
<path d="M447.7,310.0 C447.1,310.5 444.7,311.5 443.8,313.1 C442.9,314.7 442.6,318.5 442.3,319.5" fill="none" stroke-width="1.25"/>
<path d="M447.7,327.7 L478.5,338.5" fill="none" stroke-width="1.25"/>
<path d="M487.7,323.1 C488.7,324.0 492.2,327.6 493.8,328.5 C495.5,329.3 496.4,328.7 497.7,328.2 C499.0,327.6 500.9,325.8 501.5,325.4" fill="none" stroke-width="1.62"/>
<ellipse cx="485.4" cy="331.8" rx="3.1" ry="4.3" transform="rotate(15.0 485.4 331.8)" fill="none" stroke-width="3.00"/>
<path d="M501.5,325.4 L524.6,294.6" fill="none" stroke-width="1.62"/>
<path d="M530.0,296.2 C526.3,301.0 513.7,317.9 507.7,325.4 C501.7,332.8 499.1,336.3 493.8,340.8 C488.6,345.3 482.8,348.2 476.2,352.3 C469.5,356.4 458.4,362.3 453.8,365.4 C449.3,368.5 450.3,367.9 448.9,370.8 C447.6,373.6 447.1,379.0 445.8,382.3 C444.6,385.6 442.0,389.4 441.2,390.8" fill="none" stroke-width="1.62"/>
<path d="M478.5,338.9 C478.1,340.1 477.4,344.2 476.2,346.2 C474.9,348.1 475.1,347.9 470.8,350.8 C466.4,353.7 454.2,360.5 450.0,363.5 C445.8,366.6 447.1,366.1 445.8,369.2 C444.6,372.4 443.5,379.1 442.3,382.3 C441.1,385.5 440.0,387.1 438.5,388.5 C436.9,389.9 434.0,390.4 433.1,390.8" fill="none" stroke-width="1.62"/>
<path d="M478.5,338.9 C478.6,338.1 478.7,335.6 479.2,333.8 C479.7,332.1 481.2,329.4 481.5,328.5" fill="none" stroke-width="1.62"/>
<ellipse cx="432.3" cy="397.7" rx="6.2" ry="8.0" transform="rotate(15.0 432.3 397.7)" fill="#fff" stroke-width="1.62"/>
<ellipse cx="432.3" cy="397.7" rx="3.1" ry="4.5" transform="rotate(15.0 432.3 397.7)" fill="none" stroke-width="2.75"/>
<line x1="429.2" y1="336.2" x2="696.2" y2="427.1" stroke-width="1.00" class="cl"/>
<path d="M380.0,390.0 L413.1,402.0" fill="none" stroke-width="1.25"/>
<path d="M463.8,293.1 C464.2,294.6 466.3,299.2 466.2,302.3 C466.0,305.4 464.1,309.6 463.1,311.5 C462.1,313.5 460.5,313.5 460.0,313.8" fill="none" stroke-width="1.12"/>
<ellipse cx="486.9" cy="300.8" rx="2.6" ry="3.7" transform="rotate(15.0 486.9 300.8)" fill="none" stroke-width="2.50"/>
<path d="M482.3,297.7 C482.9,296.9 484.5,293.6 486.2,293.1 C487.8,292.6 490.0,294.0 492.3,294.6 C494.6,295.3 498.7,296.5 500.0,296.9" fill="none" stroke-width="1.25"/>
<path d="M481.5,299.2 C481.7,301.0 482.7,306.7 482.5,310.0 C482.2,313.3 480.4,317.7 480.0,319.2" fill="none" stroke-width="1.12"/>
<path d="M496.9,299.5 L484.6,314.6" fill="none" stroke-width="1.12"/>
<path d="M510.8,317.7 C512.1,317.8 516.7,318.9 518.5,318.6 C520.3,318.4 521.0,316.6 521.5,316.2" fill="none" stroke-width="1.12"/>
<path d="M527.7,308.5 C528.1,310.0 530.0,315.3 530.0,317.7 C530.0,320.1 529.1,322.3 527.7,323.1 C526.3,323.8 522.6,322.4 521.5,322.3" fill="none" stroke-width="1.12"/>
<path d="M370.8,298.5 C374.4,299.0 383.6,301.5 392.3,301.5 C401.0,301.5 415.1,299.6 423.1,298.5 C431.0,297.4 437.2,295.5 440.0,294.9" fill="none" stroke-width="1.25"/>
<path d="M370.8,298.5 C369.6,299.4 366.0,301.0 363.8,303.8 C361.7,306.7 358.7,313.5 357.7,315.4" fill="none" stroke-width="1.25"/>
<path d="M363.8,303.8 L416.9,319.2" fill="none" stroke-width="1.25"/>
<path d="M416.9,319.2 C418.7,319.3 424.4,320.3 427.7,319.5 C431.0,318.8 435.0,316.3 436.9,314.6 C438.8,312.9 438.6,310.9 439.2,309.2 C439.9,307.6 440.0,305.9 440.8,304.6 C441.5,303.3 443.2,301.8 443.7,301.2" fill="none" stroke-width="1.25"/>
<path d="M357.7,315.4 L376.9,321.2" fill="none" stroke-width="1.25"/>
<ellipse cx="406.9" cy="307.7" rx="5.4" ry="2.5" transform="rotate(-8.0 406.9 307.7)" fill="none" stroke-width="1.25"/>
<ellipse cx="424.3" cy="310.8" rx="8.6" ry="4.6" transform="rotate(-10.0 424.3 310.8)" fill="none" stroke-width="1.25"/>
<path d="M357.7,315.4 L330.8,333.8" fill="none" stroke-width="1.25"/>
<path d="M376.9,318.5 C377.7,320.0 379.7,325.5 381.5,327.7 C383.3,329.9 386.7,330.9 387.7,331.5" fill="none" stroke-width="1.25"/>
<path d="M387.7,331.5 L416.9,340.8" fill="none" stroke-width="1.25"/>
<path d="M380.0,326.2 L358.5,340.8" fill="none" stroke-width="1.25"/>
<path d="M392.3,336.9 L385.4,342.3 L406.2,349.2 L413.8,342.3" fill="none" stroke-width="1.25"/>
<path d="M386.2,344.6 L406.2,350.3" fill="none" stroke-width="1.12"/>
<path d="M443.1,313.1 C443.6,312.7 444.9,311.0 446.2,310.8 C447.4,310.5 450.0,311.4 450.8,311.5" fill="none" stroke-width="1.25"/>
<path d="M330.8,333.8 L356.9,343.1" fill="none" stroke-width="1.25"/>
<path d="M330.8,333.8 C329.2,334.4 323.7,335.4 321.5,336.9 C319.4,338.5 318.3,342.1 317.7,343.1" fill="none" stroke-width="1.25"/>
<path d="M317.7,343.1 C317.4,344.6 315.8,349.2 316.2,352.3 C316.5,355.4 318.8,358.2 320.0,361.5 C321.2,364.9 322.8,368.5 323.1,372.3 C323.3,376.2 321.3,381.3 321.5,384.6 C321.8,387.9 324.1,390.8 324.6,392.0" fill="none" stroke-width="1.12"/>
<ellipse cx="353.1" cy="356.5" rx="10.8" ry="14.8" transform="rotate(12.0 353.1 356.5)" fill="none" stroke-width="1.38"/>
<ellipse cx="353.4" cy="356.5" rx="7.7" ry="11.1" transform="rotate(12.0 353.4 356.5)" fill="none" stroke-width="1.38"/>
<ellipse cx="353.8" cy="356.5" rx="5.2" ry="7.7" transform="rotate(12.0 353.8 356.5)" fill="none" stroke-width="1.62"/>
<path d="M347.7,361.5 C348.3,362.1 350.1,364.7 351.5,364.9 C353.0,365.2 355.8,363.4 356.6,363.1" fill="none" stroke-width="1.12"/>
<path d="M356.9,343.1 L361.5,343.4" fill="none" stroke-width="1.12"/>
<path d="M339.2,369.2 C340.4,369.7 344.5,371.0 346.2,372.3 C347.8,373.6 348.7,376.2 349.2,376.9" fill="none" stroke-width="1.12"/>
<path d="M341.5,380.8 C344.4,380.0 354.4,378.1 358.5,376.2 C362.6,374.2 364.9,370.4 366.2,369.2" fill="none" stroke-width="1.25"/>
<path d="M392.3,336.9 L367.7,366.2" fill="none" stroke-width="1.25"/>
<path d="M366.2,369.2 L375.4,372.3 L372.3,378.5 L378.5,380.8" fill="none" stroke-width="1.25"/>
<path d="M396.9,349.2 C397.2,351.3 399.0,357.9 398.5,361.5 C397.9,365.1 396.4,368.5 393.8,370.8 C391.3,373.1 385.6,373.6 383.1,375.4 C380.5,377.2 379.0,379.2 378.5,381.5 C377.9,383.8 378.7,387.5 380.0,389.2 C381.3,391.0 385.1,391.5 386.2,392.0" fill="none" stroke-width="1.12"/>
<path d="M398.5,351.5 L447.7,367.7" fill="none" stroke-width="1.25"/>
<path d="M300.0,382.3 L311.5,376.2 L320.8,378.5" fill="none" stroke-width="1.00"/>
<path d="M324.6,378.5 C324.4,379.0 323.0,380.1 323.1,381.5 C323.1,382.9 324.8,383.8 324.9,386.9 C325.1,390.0 324.2,394.7 323.8,400.0 C323.5,405.3 322.7,413.1 323.1,418.5 C323.5,423.8 325.1,428.4 326.2,432.3 C327.2,436.2 328.7,440.3 329.2,441.8" fill="none" stroke-width="1.25"/>
<text transform="translate(306.9,409.2) scale(0.68,1)" font-size="20.5" text-anchor="start">1</text>
<line x1="315.4" y1="401.2" x2="323.4" y2="401.2" stroke-width="1.25"/>
<path d="M360.0,384.6 C361.0,384.0 364.2,381.2 366.2,380.8 C368.1,380.4 370.7,380.4 371.5,382.3 C372.4,384.2 372.0,389.6 371.1,392.3 C370.2,395.0 367.9,397.6 366.2,398.5 C364.4,399.4 362.2,398.7 360.8,397.7 C359.4,396.7 357.8,394.5 357.7,392.3 C357.6,390.1 359.6,385.9 360.0,384.6" fill="#fff" stroke-width="1.50"/>
<ellipse cx="363.8" cy="390.8" rx="3.1" ry="4.3" transform="rotate(15.0 363.8 390.8)" fill="none" stroke-width="2.12"/>
<path d="M360.8,401.5 L363.1,406.9 L373.8,407.7" fill="none" stroke-width="1.12"/>
<path d="M300.0,436.2 L360.8,401.5 L373.8,393.8" fill="none" stroke-width="1.00" class="cl"/>
<path d="M366.9,408.5 C366.7,411.4 365.3,420.1 365.4,426.2 C365.5,432.2 366.8,440.0 367.7,444.6 C368.6,449.2 370.3,452.3 370.8,453.8" fill="none" stroke-width="1.00"/>
<path d="M329.2,442.3 L366.2,453.8" fill="none" stroke-width="1.25"/>
<path d="M329.2,442.3 C328.7,443.2 326.3,445.5 326.2,447.7 C326.0,449.9 328.1,454.1 328.5,455.4" fill="none" stroke-width="1.25"/>
<path d="M328.5,455.4 C330.9,456.5 339.4,460.0 343.1,462.3 C346.8,464.6 349.5,468.1 350.8,469.2" fill="none" stroke-width="1.25"/>
<ellipse cx="370.0" cy="462.3" rx="6.2" ry="8.3" transform="rotate(15.0 370.0 462.3)" fill="#fff" stroke-width="1.50"/>
<ellipse cx="370.0" cy="462.3" rx="2.9" ry="4.2" transform="rotate(15.0 370.0 462.3)" fill="none" stroke-width="2.50"/>
<path d="M349.2,469.2 C349.1,470.3 347.9,473.1 348.5,475.4 C349.0,477.7 350.1,481.0 352.3,483.1 C354.5,485.1 358.2,486.4 361.5,487.7 C364.9,489.0 370.5,490.5 372.3,491.1" fill="none" stroke-width="1.25"/>
<path d="M351.5,470.8 C352.4,470.4 355.3,468.2 356.9,468.5 C358.6,468.7 361.3,471.2 361.5,472.3 C361.8,473.5 359.9,475.1 358.5,475.4 C357.1,475.7 354.0,474.4 353.1,474.2" fill="none" stroke-width="1.12"/>
<path d="M361.5,472.3 L367.7,478.5" fill="none" stroke-width="1.12"/>
<path d="M378.5,378.5 C378.6,380.0 377.9,385.3 379.2,387.7 C380.5,390.1 385.0,392.2 386.2,393.1" fill="none" stroke-width="1.25"/>
<path d="M386.2,393.1 L427.7,407.7" fill="none" stroke-width="1.25"/>
<path d="M441.5,389.2 L446.9,378.5" fill="none" stroke-width="1.62"/>
<path d="M427.7,407.7 C429.0,408.5 433.9,410.6 435.4,412.3 C436.8,414.0 436.2,416.8 436.3,417.7" fill="none" stroke-width="1.62"/>
<path d="M436.3,417.7 L440.0,423.4 L455.7,435.7" fill="none" stroke-width="1.62"/>
<path d="M443.8,390.8 C443.3,392.6 441.1,397.8 440.3,401.5 C439.5,405.3 438.6,409.9 439.2,413.1 C439.8,416.2 443.1,419.1 443.8,420.3" fill="none" stroke-width="1.62"/>
<path d="M443.8,420.3 L463.4,437.2" fill="none" stroke-width="1.62"/>
<path d="M389.2,394.6 C388.7,397.3 386.2,405.0 386.2,410.8 C386.2,416.5 387.2,423.6 389.2,429.2 C391.3,434.9 395.4,441.4 398.5,444.6 C401.5,447.8 404.6,448.1 407.7,448.5 C410.8,448.8 414.6,448.3 416.9,446.9 C419.2,445.5 420.8,442.9 421.5,440.0 C422.3,437.1 422.8,432.6 421.5,429.2 C420.3,425.9 417.2,423.3 413.8,420.0 C410.5,416.7 404.9,412.2 401.5,409.2 C398.2,406.3 395.1,403.5 393.8,402.3" fill="none" stroke-width="1.25"/>
<path d="M392.3,403.1 C392.1,405.6 390.3,413.3 390.8,418.5 C391.3,423.6 393.6,429.7 395.4,433.8 C397.2,437.9 400.5,441.5 401.5,443.1" fill="none" stroke-width="1.12"/>
<path d="M396.9,405.4 C396.9,408.1 396.3,416.5 396.9,421.5 C397.6,426.5 400.1,433.1 400.8,435.4" fill="none" stroke-width="1.75"/>
<ellipse cx="406.2" cy="441.5" rx="2.5" ry="2.9" transform="rotate(10.0 406.2 441.5)" fill="none" stroke-width="1.25"/>
<path d="M406.2,449.2 L415.4,447.7" fill="none" stroke-width="1.12"/>
<path d="M421.5,424.9 L460.0,438.8" fill="none" stroke-width="1.25"/>
<path d="M423.1,443.1 L460.0,456.2" fill="none" stroke-width="1.25"/>
<path d="M406.9,450.8 C407.1,451.5 406.8,453.8 407.7,455.4 C408.6,456.9 408.5,458.2 412.3,460.0 C416.2,461.8 427.4,464.1 430.8,466.2 C434.1,468.2 432.1,468.0 432.3,472.3 C432.6,476.6 432.3,488.7 432.3,492.0" fill="none" stroke-width="1.25"/>
<path d="M433.8,470.8 L453.8,477.2" fill="none" stroke-width="1.25"/>
<ellipse cx="404.6" cy="486.5" rx="11.5" ry="14.2" transform="rotate(12.0 404.6 486.5)" fill="none" stroke-width="1.38"/>
<ellipse cx="405.2" cy="486.9" rx="6.9" ry="9.5" transform="rotate(12.0 405.2 486.9)" fill="none" stroke-width="1.50"/>
<path d="M385.4,484.6 L398.5,474.6" fill="none" stroke-width="1.12"/>
<path d="M381.5,467.7 C382.4,468.5 385.4,470.5 386.9,472.3 C388.5,474.1 390.1,477.4 390.8,478.5" fill="none" stroke-width="1.12"/>
<path d="M501.5,350.0 C506.4,350.5 510.9,354.4 513.8,357.7 C516.8,361.0 518.1,365.4 519.2,370.0 C520.4,374.6 520.9,380.1 520.8,385.4 C520.6,390.7 520.1,397.5 518.5,402.0 C516.8,406.5 514.1,408.0 510.8,412.3 C507.4,416.6 502.6,424.1 498.5,427.7 C494.4,431.3 490.1,433.4 486.2,434.2 C482.2,434.9 478.5,435.2 474.6,432.3 C470.8,429.4 465.5,422.0 463.1,416.9 C460.6,411.9 460.3,407.3 460.0,402.0 C459.7,396.7 459.7,391.2 461.5,385.4 C463.3,379.5 466.9,372.1 470.8,366.9 C474.6,361.8 479.5,357.4 484.6,354.6 C489.7,351.8 496.7,349.5 501.5,350.0 Z" fill="none" stroke-width="1.25"/>
<path d="M501.5,350.0 C503.1,350.9 508.3,352.6 510.8,355.4 C513.2,358.2 515.0,362.4 516.2,366.9 C517.3,371.4 517.6,377.6 517.7,382.3 C517.8,387.1 518.0,390.4 516.6,395.4 C515.2,400.4 512.5,407.1 509.2,412.3 C505.9,417.6 500.8,423.6 496.9,426.9 C493.1,430.2 489.7,431.1 486.2,432.0 C482.6,432.9 477.4,432.5 475.7,432.6" fill="none" stroke-width="1.00"/>
<path d="M503.1,350.8 C503.8,353.5 506.8,361.7 507.7,366.9 C508.6,372.2 508.7,377.1 508.5,382.3 C508.2,387.6 507.7,392.7 506.2,398.5 C504.6,404.2 502.6,411.8 499.2,416.9 C495.9,422.1 489.9,426.7 486.2,429.2 C482.4,431.7 478.5,431.5 476.9,432.0" fill="none" stroke-width="1.25"/>
<path d="M506.2,375.7 L501.5,373.8" fill="none" stroke-width="1.25"/>
<path d="M501.5,373.8 C500.3,378.5 496.7,394.1 493.8,402.0 C491.0,409.9 487.8,416.5 484.6,421.5 C481.4,426.6 476.3,430.5 474.6,432.3" fill="none" stroke-width="1.25"/>
<path d="M555.4,360.0 C555.3,363.8 555.4,375.6 554.6,383.1 C553.8,390.5 551.4,401.0 550.8,404.6" fill="none" stroke-width="1.12"/>
<path d="M538.5,409.2 L541.5,400.0 L547.7,402.3 L548.5,406.2" fill="none" stroke-width="1.12"/>
<path d="M542.3,408.5 L549.2,410.8" fill="none" stroke-width="1.12"/>
<path d="M538.5,409.2 C537.2,411.8 534.4,419.0 530.8,424.6 C527.2,430.3 521.8,437.7 516.9,443.1 C512.1,448.5 506.7,453.3 501.5,456.9 C496.4,460.5 491.3,462.8 486.2,464.6 C481.0,466.5 473.3,467.4 470.8,468.0" fill="none" stroke-width="1.38"/>
<path d="M537.2,411.5 C535.9,414.0 533.1,420.7 529.5,426.2 C525.9,431.6 520.6,439.0 515.7,444.3 C510.8,449.6 505.2,454.6 500.3,458.2 C495.4,461.7 488.5,464.6 486.2,465.8" fill="none" stroke-width="1.00"/>
<path d="M463.1,436.9 C462.6,438.5 460.0,443.1 460.0,446.2 C460.0,449.2 461.7,452.1 463.1,455.4 C464.5,458.7 467.2,463.4 468.5,466.2 C469.7,468.9 470.4,471.0 470.8,472.0" fill="none" stroke-width="1.62"/>
<path d="M457.2,436.5 C457.6,438.1 458.8,442.7 459.2,446.2 C459.7,449.6 459.9,455.1 460.0,456.9" fill="none" stroke-width="1.62"/>
<ellipse cx="460.0" cy="466.2" rx="5.8" ry="7.4" transform="rotate(15.0 460.0 466.2)" fill="#fff" stroke-width="1.62"/>
<ellipse cx="460.0" cy="466.2" rx="2.8" ry="4.2" transform="rotate(15.0 460.0 466.2)" fill="none" stroke-width="2.75"/>
<path d="M440.0,432.3 L456.2,436.9" fill="none" stroke-width="1.25"/>
<path d="M440.0,449.2 L456.9,455.4" fill="none" stroke-width="1.25"/>
<path d="M595.7,350.8 C595.6,352.3 595.9,353.3 595.4,360.0 C594.8,366.7 593.8,380.5 592.3,390.8 C590.8,401.0 588.5,412.3 586.2,421.5 C583.8,430.8 581.5,439.0 578.5,446.2 C575.4,453.3 570.5,460.3 567.7,464.6 C564.9,468.9 562.6,470.8 561.5,472.0" fill="none" stroke-width="1.50"/>
<path d="M598.5,360.0 C597.9,365.1 596.7,380.5 595.1,390.8 C593.5,401.0 591.2,412.3 588.9,421.5 C586.6,430.8 584.3,438.7 581.2,446.2 C578.2,453.6 572.5,462.8 570.8,466.2" fill="none" stroke-width="1.12"/>
<ellipse cx="599.2" cy="393.8" rx="2.2" ry="3.1" transform="rotate(12.0 599.2 393.8)" fill="none" stroke-width="1.50"/>
<ellipse cx="594.6" cy="413.8" rx="2.3" ry="3.4" transform="rotate(12.0 594.6 413.8)" fill="none" stroke-width="2.00"/>
<path d="M590.0,406.2 C590.9,405.9 593.7,404.6 595.4,404.6 C597.1,404.6 599.2,405.9 600.0,406.2" fill="none" stroke-width="1.25"/>
<path d="M591.5,421.5 C590.6,423.3 587.3,428.7 586.2,432.3 C585.0,435.9 584.2,439.7 584.6,443.1 C585.0,446.4 585.9,450.2 588.5,452.3 C591.0,454.4 598.1,455.1 600.0,455.7" fill="none" stroke-width="1.25"/>
<path d="M600.0,423.1 C598.7,424.6 594.0,429.0 592.3,432.3 C590.6,435.6 589.7,440.0 590.0,443.1 C590.3,446.2 592.2,449.2 593.8,450.8 C595.5,452.3 599.0,452.1 600.0,452.3" fill="none" stroke-width="1.25"/>
<ellipse cx="580.3" cy="454.6" rx="3.4" ry="5.8" transform="rotate(18.0 580.3 454.6)" fill="none" stroke-width="1.38"/>
<ellipse cx="571.5" cy="465.4" rx="2.6" ry="3.8" transform="rotate(15.0 571.5 465.4)" fill="none" stroke-width="2.75"/>
<ellipse cx="593.8" cy="466.2" rx="2.0" ry="2.9" transform="rotate(12.0 593.8 466.2)" fill="none" stroke-width="1.62"/>
<path d="M566.2,360.0 L568.5,369.2" fill="none" stroke-width="1.12"/>
<path d="M487.7,471.1 C488.5,470.6 491.0,468.3 492.3,468.5 C493.6,468.6 494.9,471.4 495.4,472.0" fill="none" stroke-width="1.25"/>
<path d="M623.1,388.5 L616.9,398.5" fill="none" stroke-width="1.25"/>
<path d="M626.9,390.8 L620.0,400.8" fill="none" stroke-width="1.25"/>
<path d="M651.5,390.0 C652.6,390.1 655.9,388.1 657.7,390.8 C659.5,393.5 660.8,401.0 662.3,406.2 C663.8,411.3 665.6,418.2 666.9,421.5 C668.2,424.9 669.5,425.6 670.0,426.5" fill="none" stroke-width="1.25"/>
<path d="M640.8,394.2 C641.5,396.9 644.1,406.7 645.4,410.8 C646.7,414.9 648.2,417.4 648.8,418.8" fill="none" stroke-width="1.25"/>
<path d="M657.7,390.8 C658.2,390.4 658.9,389.4 660.5,388.6 C662.0,387.8 665.8,386.6 666.9,386.2" fill="none" stroke-width="1.12"/>
<path d="M679.2,380.0 C679.7,381.3 681.8,383.8 682.3,387.7 C682.8,391.5 682.8,397.4 682.3,403.1 C681.8,408.7 680.3,417.4 679.5,421.5 C678.8,425.7 678.0,426.9 677.7,428.0" fill="none" stroke-width="1.25"/>
<ellipse cx="681.5" cy="372.3" rx="2.2" ry="4.6" transform="rotate(12.0 681.5 372.3)" fill="none" stroke-width="1.38"/>
<ellipse cx="681.8" cy="372.9" rx="1.1" ry="2.8" transform="rotate(12.0 681.8 372.9)" fill="none" stroke-width="1.12"/>
<ellipse cx="675.4" cy="436.2" rx="6.5" ry="8.5" transform="rotate(15.0 675.4 436.2)" fill="#fff" stroke-width="1.62"/>
<ellipse cx="675.4" cy="436.2" rx="2.8" ry="4.2" transform="rotate(15.0 675.4 436.2)" fill="none" stroke-width="2.50"/>
<path d="M613.1,398.5 C613.8,399.7 615.1,403.7 617.7,406.2 C620.3,408.6 624.4,411.2 628.5,413.1 C632.6,415.0 635.9,415.7 642.3,417.7 C648.7,419.7 662.8,423.7 666.9,424.9" fill="none" stroke-width="1.25"/>
<path d="M611.5,400.3 C612.3,401.6 613.5,405.5 616.2,408.0 C618.8,410.5 623.3,413.1 627.7,415.1 C632.1,417.1 639.9,419.2 642.3,420.0" fill="none" stroke-width="1.12"/>
<path d="M611.5,412.3 L642.3,421.5" fill="none" stroke-width="1.12"/>
<path d="M643.1,421.5 L645.4,433.8" fill="none" stroke-width="1.25"/>
<path d="M645.4,433.8 C645.6,434.2 646.0,435.6 646.6,436.2 C647.3,436.7 648.8,437.1 649.2,437.2" fill="none" stroke-width="1.25"/>
<path d="M649.2,437.2 L668.8,443.8" fill="none" stroke-width="1.25"/>
<path d="M645.4,423.8 C648.7,424.9 661.5,428.3 665.4,430.0 C669.2,431.7 667.9,432.2 668.5,433.8 C669.0,435.5 668.7,439.0 668.8,440.0" fill="none" stroke-width="1.25"/>
<ellipse cx="627.7" cy="446.2" rx="14.6" ry="19.4" transform="rotate(12.0 627.7 446.2)" fill="none" stroke-width="1.50"/>
<ellipse cx="628.5" cy="446.2" rx="10.8" ry="15.1" transform="rotate(12.0 628.5 446.2)" fill="none" stroke-width="1.62"/>
<ellipse cx="628.9" cy="446.5" rx="9.5" ry="13.5" transform="rotate(12.0 628.9 446.5)" fill="none" stroke-width="1.12"/>
<path d="M623.1,433.8 C622.7,435.9 620.4,442.1 620.8,446.2 C621.2,450.3 624.6,456.4 625.4,458.5" fill="none" stroke-width="1.12"/>
<clipPath id="cpr2"><path d="M585,400 L620,400 L620,480 L592,480 Q586,450 585,400 Z"/></clipPath><g clip-path="url(#cpr2)">
<ellipse cx="598.0" cy="441.0" rx="14.5" ry="22.5" transform="rotate(12.0 598.0 441.0)" fill="none" stroke-width="1.12" />
<ellipse cx="598.0" cy="441.0" rx="12.3" ry="19.5" transform="rotate(12.0 598.0 441.0)" fill="none" stroke-width="1.12" />
<ellipse cx="598.0" cy="441.0" rx="10.5" ry="17.0" transform="rotate(12.0 598.0 441.0)" fill="none" stroke-width="1.12" />
<ellipse cx="598.0" cy="441.0" rx="9.0" ry="15.0" transform="rotate(12.0 598.0 441.0)" fill="none" stroke-width="1.12" />
</g>
<path d="M598.5,363.1 L605.4,361.5 L607.7,365.4 L606.2,372.3 L599.2,370.8" fill="none" stroke-width="1.25"/>
<path d="M596.2,360.0 C596.0,362.6 594.6,371.3 595.4,375.4 C596.2,379.5 598.6,383.3 600.8,384.6 C602.9,385.9 606.4,380.8 608.5,383.1 C610.5,385.4 612.3,395.9 613.1,398.5" fill="none" stroke-width="1.12"/>
<ellipse cx="600.0" cy="393.1" rx="2.6" ry="3.7" transform="rotate(15.0 600.0 393.1)" fill="none" stroke-width="2.50"/>
<ellipse cx="600.0" cy="393.1" rx="4.6" ry="5.8" transform="rotate(15.0 600.0 393.1)" fill="none" stroke-width="1.25"/>
<ellipse cx="594.6" cy="413.8" rx="2.3" ry="3.4" transform="rotate(15.0 594.6 413.8)" fill="none" stroke-width="1.62"/>
<path d="M590.0,406.2 C591.0,405.9 594.4,403.8 596.2,404.6 C597.9,405.4 600.1,407.9 600.8,410.8 C601.4,413.6 600.1,419.7 600.0,421.5" fill="none" stroke-width="1.25"/>
<ellipse cx="660.8" cy="453.8" rx="2.8" ry="6.5" transform="rotate(18.0 660.8 453.8)" fill="none" stroke-width="1.38"/>
<ellipse cx="660.5" cy="454.2" rx="1.5" ry="4.3" transform="rotate(18.0 660.5 454.2)" fill="none" stroke-width="1.25"/>
<path d="M657.7,461.5 C657.9,462.3 659.1,464.4 659.2,466.2 C659.4,467.9 658.6,471.0 658.5,472.0" fill="none" stroke-width="1.12"/>
<path d="M599.2,470.0 L616.2,466.2 L618.5,472.0" fill="none" stroke-width="1.25"/>
<ellipse cx="404.6" cy="486.2" rx="10.8" ry="14.6" transform="rotate(12.0 404.6 486.2)" fill="#fff" stroke-width="1.38"/>
<ellipse cx="405.1" cy="486.5" rx="6.9" ry="9.7" transform="rotate(12.0 405.1 486.5)" fill="none" stroke-width="1.50"/>
<ellipse cx="405.4" cy="486.6" rx="5.4" ry="7.7" transform="rotate(12.0 405.4 486.6)" fill="none" stroke-width="1.12"/>
<ellipse cx="416.2" cy="500.5" rx="5.8" ry="8.0" transform="rotate(15.0 416.2 500.5)" fill="#fff" stroke-width="1.50"/>
<ellipse cx="416.2" cy="500.5" rx="2.9" ry="4.2" transform="rotate(15.0 416.2 500.5)" fill="none" stroke-width="2.00"/>
<path d="M372.3,490.9 L407.7,506.2 L412.3,509.5" fill="none" stroke-width="1.25"/>
<path d="M373.1,493.8 L378.5,496.2" fill="none" stroke-width="1.25"/>
<path d="M378.5,496.2 L409.2,508.5" fill="none" stroke-width="1.12"/>
<path d="M385.4,485.4 L397.7,474.6" fill="none" stroke-width="1.12"/>
<path d="M380.8,467.7 C381.9,468.3 386.0,469.7 387.7,471.5 C389.4,473.3 390.3,477.3 390.8,478.5" fill="none" stroke-width="1.12"/>
<path d="M420.0,507.2 L432.3,511.1 L483.1,530.0" fill="none" stroke-width="1.25"/>
<path d="M416.9,509.2 L426.2,513.8 L432.3,516.5 L433.8,511.2" fill="none" stroke-width="1.12"/>
<path d="M436.2,508.5 L426.2,514.6 L406.2,526.2 L419.2,530.0" fill="none" stroke-width="1.00" class="cl"/>
<path d="M406.9,448.5 C407.1,449.7 406.8,454.2 407.7,456.2 C408.6,458.1 408.7,458.5 412.3,460.0 C415.9,461.5 425.9,463.7 429.2,465.4 C432.6,467.1 431.8,469.5 432.3,470.3" fill="none" stroke-width="1.25"/>
<path d="M432.3,470.3 L433.2,508.2" fill="none" stroke-width="1.25"/>
<path d="M434.2,470.0 L447.7,474.6" fill="none" stroke-width="1.12"/>
<path d="M454.6,477.7 C454.6,480.8 454.6,490.5 454.8,496.2 C454.9,501.8 454.6,507.7 455.7,511.5 C456.8,515.4 457.0,516.6 461.5,519.2 C466.1,521.8 479.5,525.9 483.1,527.2" fill="none" stroke-width="1.25"/>
<path d="M464.9,459.2 C465.6,461.0 467.0,467.1 469.2,470.0 C471.5,472.9 473.3,477.2 478.5,476.5 C483.6,475.7 496.4,467.5 500.0,465.7" fill="none" stroke-width="1.62"/>
<path d="M463.1,473.1 C465.1,474.2 469.2,480.2 475.4,479.5 C481.5,478.9 495.9,470.8 500.0,469.1" fill="none" stroke-width="1.62"/>
<path d="M478.5,491.5 C478.6,493.1 478.5,498.5 479.2,500.8 C480.0,503.1 479.6,503.7 483.1,505.4 C486.5,507.1 497.2,510.0 500.0,510.9" fill="none" stroke-width="1.25"/>
<path d="M479.2,493.4 L500.0,499.5" fill="none" stroke-width="1.12"/>
<path d="M483.1,530.0 C483.6,530.7 484.6,533.6 486.2,534.2 C487.7,534.7 490.8,534.7 492.3,533.1 C493.8,531.4 495.1,526.6 495.4,524.2 C495.6,521.7 494.7,519.0 493.8,518.5 C492.9,517.9 491.5,519.1 490.0,520.8 C488.5,522.4 485.5,527.2 484.6,528.5" fill="none" stroke-width="1.50"/>
<ellipse cx="489.5" cy="526.9" rx="1.7" ry="2.9" transform="rotate(15.0 489.5 526.9)" fill="none" stroke-width="1.88"/>
<path d="M493.8,533.8 L500.0,535.5" fill="none" stroke-width="1.25"/>
<path d="M484.6,553.1 L500.0,544.2" fill="none" stroke-width="1.00" class="cl"/>
<path d="M516.9,501.5 C516.8,504.1 514.9,511.8 516.2,516.9 C517.4,522.1 520.9,528.9 524.6,532.3 C528.3,535.7 533.8,537.5 538.5,537.2 C543.1,537.0 548.5,534.7 552.3,530.8 C556.2,526.9 559.6,520.0 561.5,513.8 C563.5,507.7 564.1,499.7 563.8,493.8 C563.6,487.9 560.6,481.0 560.0,478.5" fill="none" stroke-width="1.50"/>
<path d="M518.5,500.8 C518.4,503.3 516.8,511.2 518.0,516.2 C519.2,521.1 522.4,527.3 525.8,530.5 C529.3,533.6 534.3,535.3 538.5,535.1 C542.7,534.9 547.5,532.9 551.1,529.2 C554.7,525.6 558.2,519.0 560.0,513.1 C561.8,507.2 562.4,499.3 562.2,493.8 C561.9,488.4 559.3,482.6 558.8,480.3" fill="none" stroke-width="1.12"/>
<path d="M526.2,498.5 C525.9,500.8 523.8,507.9 524.6,512.3 C525.4,516.7 527.9,521.8 530.8,524.6 C533.6,527.4 537.9,530.0 541.5,529.2 C545.1,528.5 549.5,524.6 552.3,520.0 C555.1,515.4 557.7,507.4 558.5,501.5 C559.2,495.6 557.9,487.9 556.9,484.6 C555.9,481.3 553.1,482.1 552.3,481.5" fill="none" stroke-width="1.50"/>
<path d="M526.2,498.5 C526.7,498.2 528.5,496.4 529.2,496.9 C530.0,497.4 531.0,499.5 530.8,501.5 C530.5,503.6 528.2,507.9 527.7,509.2" fill="none" stroke-width="1.12"/>
<path d="M487.7,471.5 C488.3,471.0 490.1,468.8 491.5,468.5 C492.9,468.1 495.4,469.4 496.2,469.5" fill="none" stroke-width="1.62"/>
<path d="M496.2,469.5 L532.3,493.8" fill="none" stroke-width="1.62"/>
<path d="M532.3,493.8 C533.2,493.9 535.6,495.7 537.7,494.5 C539.7,493.2 540.6,489.7 544.6,486.2 C548.6,482.6 557.9,475.5 561.5,473.1 C565.1,470.6 564.4,471.2 566.2,471.5 C567.9,471.9 571.3,474.5 572.3,475.1" fill="none" stroke-width="1.62"/>
<path d="M486.9,474.6 L490.0,477.7" fill="none" stroke-width="1.62"/>
<path d="M490.0,477.7 L530.8,497.2" fill="none" stroke-width="1.62"/>
<path d="M530.8,497.2 C532.2,497.4 536.4,500.0 539.2,498.5 C542.1,496.9 543.6,491.8 547.7,488.0 C551.8,484.2 561.2,477.5 563.8,475.4" fill="none" stroke-width="1.62"/>
<ellipse cx="572.0" cy="466.2" rx="2.5" ry="3.5" transform="rotate(15.0 572.0 466.2)" fill="none" stroke-width="3.00"/>
<ellipse cx="580.0" cy="454.6" rx="3.1" ry="5.4" transform="rotate(18.0 580.0 454.6)" fill="none" stroke-width="1.38"/>
<ellipse cx="593.8" cy="465.4" rx="2.2" ry="3.1" transform="rotate(12.0 593.8 465.4)" fill="none" stroke-width="1.62"/>
<path d="M586.2,463.1 C586.7,464.4 587.7,469.1 589.2,470.8 C590.8,472.4 593.6,473.8 595.4,473.1 C597.2,472.3 599.5,468.3 600.0,466.2 C600.5,464.0 598.7,461.0 598.5,460.0" fill="none" stroke-width="1.38"/>
<path d="M572.3,475.1 C573.3,474.4 576.2,472.8 578.5,470.8 C580.8,468.8 584.9,464.4 586.2,463.1" fill="none" stroke-width="1.38"/>
<path d="M512.3,480.0 L511.5,483.8 L507.7,483.1 L489.2,476.9" fill="none" stroke-width="1.25"/>
<path d="M500.0,471.5 L552.3,496.9" fill="none" stroke-width="1.25"/>
<path d="M530.8,499.2 L552.3,506.2 L553.8,498.5" fill="none" stroke-width="1.25"/>
<path d="M480.0,480.0 C481.5,480.8 485.9,481.9 489.2,484.6 C492.6,487.3 497.7,493.3 500.0,496.2 C502.3,499.0 502.6,500.6 503.1,501.5" fill="none" stroke-width="1.25"/>
<path d="M480.0,491.5 L499.2,498.2" fill="none" stroke-width="1.25"/>
<path d="M503.1,501.5 C503.7,500.9 505.3,498.1 506.9,497.7 C508.6,497.3 511.8,497.8 513.1,499.2 C514.4,500.6 515.0,504.0 514.6,506.2 C514.2,508.3 512.4,511.4 510.8,512.3 C509.1,513.2 505.9,512.3 504.6,511.5 C503.3,510.8 503.3,509.4 503.1,507.7 C502.8,506.0 503.1,502.6 503.1,501.5" fill="none" stroke-width="1.50"/>
<ellipse cx="508.9" cy="504.6" rx="2.8" ry="4.2" transform="rotate(15.0 508.9 504.6)" fill="none" stroke-width="2.75"/>
<path d="M480.0,503.1 L503.1,511.1" fill="none" stroke-width="1.25"/>
<path d="M569.2,483.4 C569.1,483.6 568.7,484.2 568.5,484.6 C568.2,485.1 567.9,485.9 567.8,486.2" fill="none" stroke-width="2.00"/>
<path d="M569.2,483.4 L613.8,467.7" fill="none" stroke-width="2.00"/>
<path d="M613.8,467.7 C614.4,467.7 616.3,467.6 616.9,468.0 C617.6,468.4 617.6,469.9 617.7,470.3" fill="none" stroke-width="2.00"/>
<path d="M617.7,470.3 L617.7,487.7" fill="none" stroke-width="2.00"/>
<path d="M617.7,487.7 C617.5,488.2 617.3,489.8 616.6,490.5 C616.0,491.1 614.3,491.5 613.8,491.7" fill="none" stroke-width="2.00"/>
<path d="M613.8,491.7 L570.8,506.2" fill="none" stroke-width="2.00"/>
<path d="M570.8,506.2 C570.4,506.1 569.1,506.2 568.6,505.8 C568.2,505.5 568.1,504.2 568.0,503.8" fill="none" stroke-width="2.00"/>
<path d="M568.0,503.8 L567.8,486.2" fill="none" stroke-width="2.00"/>
<ellipse cx="600.0" cy="513.8" rx="10.0" ry="14.6" transform="rotate(12.0 600.0 513.8)" fill="#fff" stroke-width="1.50"/>
<ellipse cx="600.6" cy="514.2" rx="5.8" ry="8.6" transform="rotate(12.0 600.6 514.2)" fill="none" stroke-width="1.50"/>
<ellipse cx="600.9" cy="514.5" rx="4.3" ry="6.8" transform="rotate(12.0 600.9 514.5)" fill="none" stroke-width="1.12"/>
<path d="M480.0,527.7 C481.0,528.5 483.8,531.8 486.2,532.3 C488.5,532.8 492.2,532.3 493.8,530.8 C495.5,529.2 496.0,525.1 496.2,523.1 C496.3,521.0 495.8,518.7 494.6,518.5 C493.5,518.2 490.1,521.0 489.2,521.5" fill="none" stroke-width="1.38"/>
<ellipse cx="488.5" cy="526.9" rx="1.5" ry="2.8" transform="rotate(15.0 488.5 526.9)" fill="none" stroke-width="1.75"/>
<path d="M496.9,520.0 C497.9,520.3 501.9,520.3 503.1,521.5 C504.2,522.8 503.7,526.7 503.8,527.7" fill="none" stroke-width="1.12"/>
<path d="M495.4,532.3 L515.4,536.2 L487.7,552.0" fill="none" stroke-width="1.00" class="cl"/>
<path d="M544.6,535.4 C545.4,535.7 547.4,537.7 549.2,537.2 C551.0,536.7 554.1,533.9 555.4,532.3 C556.7,530.7 556.7,528.5 556.9,527.7" fill="none" stroke-width="1.38"/>
<path d="M558.5,523.8 C559.1,523.7 561.3,522.8 562.3,523.1 C563.3,523.3 564.0,525.0 564.3,525.4" fill="none" stroke-width="1.12"/>
<path d="M556.9,529.5 L586.2,524.6 L586.2,516.9" fill="none" stroke-width="1.25"/>
<path d="M560.0,532.3 L543.8,543.1 L556.9,547.7" fill="none" stroke-width="1.00" class="cl"/>
<path d="M612.3,504.6 C612.8,504.1 614.2,501.7 615.4,501.5 C616.5,501.3 618.6,503.1 619.2,503.4" fill="none" stroke-width="1.12"/>
<path d="M657.7,461.5 C657.7,462.6 658.7,464.4 657.7,467.7 C656.7,471.0 654.4,476.9 651.5,481.5 C648.7,486.2 644.6,491.4 640.8,495.4 C636.9,499.4 631.8,503.3 628.5,505.4 C625.1,507.5 622.8,508.2 620.8,508.0 C618.7,507.8 616.9,504.9 616.2,504.3" fill="none" stroke-width="1.25"/>
<path d="M613.1,503.1 C613.6,502.8 614.9,501.5 616.2,501.5 C617.4,501.5 620.0,502.8 620.8,503.1" fill="none" stroke-width="1.12"/>
<path d="M622.3,445.4 L670.0,457.7 L691.5,445.4 L769.2,472.6" fill="none" stroke-width="1.00" class="cl"/>
<path d="M662.3,458.5 L750.0,489.2" fill="none" stroke-width="1.00" class="cl"/>
<path d="M616.2,512.3 L623.1,512.3 L670.0,484.6 L678.5,487.7" fill="none" stroke-width="1.00" class="cl"/>
<path d="M611.5,516.9 L619.2,520.0 L656.2,499.2 L740.9,526.9" fill="none" stroke-width="1.00" class="cl"/>
<path d="M646.5,241.5 C646.3,244.2 646.1,252.8 645.2,257.7 C644.3,262.6 644.1,265.8 641.2,271.2 C638.3,276.6 632.5,283.7 628.0,290.0 C623.5,296.3 616.5,305.8 614.2,308.9" stroke-width="1.5"/>
<path d="M651.9,242.9 C651.7,245.6 651.5,253.8 650.6,259.0 C649.7,264.1 649.3,268.3 646.5,273.8 C643.7,279.3 638.5,285.7 634.0,292.0 C629.5,298.3 622.0,308.2 619.6,311.5" stroke-width="1.5"/>
<line x1="563.1" y1="190.4" x2="563.1" y2="279.2" stroke-width="1.00" class="cl"/>
<line x1="433.8" y1="274.2" x2="462.7" y2="283.8" stroke-width="1.00" class="cl"/>
<line x1="562.7" y1="190.0" x2="683.3" y2="120.8" stroke-width="1.00" class="cl"/>
<line x1="683.3" y1="120.8" x2="697.7" y2="125.6" stroke-width="1.00" class="cl"/>
<path d="M766.4,154.0 L699.4,132.3 Q696.7,131.5 698.0,127.5 Q699.3,123.5 702.0,124.3 L769.0,146.0" fill="#fff" stroke-width="1.38"/>
<ellipse cx="767.7" cy="150.0" rx="3.8" ry="8.0" transform="rotate(12.9 767.7 150.0)" fill="#fff" stroke-width="1.50" />
<ellipse cx="769.2" cy="150.5" rx="3.6" ry="7.6" transform="rotate(12.9 769.2 150.5)" fill="#fff" stroke-width="1.25" />
<path d="M775.2,147.8 L772.1,144.0 L766.9,146.9 L770.9,148.2 L776.1,145.3 L779.2,149.1 Z" fill="#fff" stroke-width="1.12"/>
<path d="M767.8,157.4 L773.0,154.5 L775.2,147.8 L779.2,149.1 L777.0,155.8 L771.8,158.7 Z" fill="#fff" stroke-width="1.12"/>
<path d="M766.9,146.9 L764.8,153.6 L767.8,157.4 L771.8,158.7 L768.8,154.9 L770.9,148.2 Z" fill="#fff" stroke-width="1.12"/>
<line x1="772.1" y1="144.0" x2="776.1" y2="145.3" stroke-width="1.12"/>
<path d="M771.8,158.7 L777.0,155.8 L779.2,149.1 L776.1,145.3 L770.9,148.2 L768.8,154.9 Z" fill="#fff" stroke-width="1.38"/>
<text transform="translate(735.7,169.7) scale(0.68,1)" font-size="20.5" text-anchor="start">3</text>
<line x1="739.5" y1="145.7" x2="739.5" y2="153.8" stroke-width="1.25"/>
<path d="M661.5,236.2 L675.4,240.8 L751.5,196.9 L763,200.8" fill="none" stroke-width="1.00" class="cl"/>
<path d="M832.4,228.5 L765.0,206.3 Q762.3,205.4 763.6,201.4 Q765.0,197.5 767.6,198.3 L835.0,220.6" fill="#fff" stroke-width="1.38"/>
<ellipse cx="833.7" cy="224.5" rx="3.8" ry="8.0" transform="rotate(13.2 833.7 224.5)" fill="#fff" stroke-width="1.50" />
<ellipse cx="835.2" cy="225.0" rx="3.6" ry="7.6" transform="rotate(13.2 835.2 225.0)" fill="#fff" stroke-width="1.25" />
<path d="M841.2,222.4 L838.2,218.7 L833.0,221.5 L837.0,222.9 L842.2,220.0 L845.2,223.7 Z" fill="#fff" stroke-width="1.12"/>
<path d="M833.8,231.9 L839.0,229.1 L841.2,222.4 L845.2,223.7 L843.0,230.4 L837.8,233.3 Z" fill="#fff" stroke-width="1.12"/>
<path d="M833.0,221.5 L830.8,228.2 L833.8,231.9 L837.8,233.3 L834.8,229.5 L837.0,222.9 Z" fill="#fff" stroke-width="1.12"/>
<line x1="838.2" y1="218.7" x2="842.2" y2="220.0" stroke-width="1.12"/>
<path d="M837.8,233.3 L843.0,230.4 L845.2,223.7 L842.2,220.0 L837.0,222.9 L834.8,229.5 Z" fill="#fff" stroke-width="1.38"/>
<text transform="translate(795.2,197.0) scale(0.68,1)" font-size="20.5" text-anchor="start">3</text>
<line x1="798.7" y1="198.8" x2="798.7" y2="207.5" stroke-width="1.25"/>
<path d="M679.2,251.5 L728.5,223.1 L745.4,229.2" fill="none" stroke-width="1.00" class="cl"/>
<path d="M813.2,256.7 L746.4,234.2 Q743.7,233.3 745.0,229.3 Q746.4,225.4 749.0,226.3 L815.8,248.7" fill="#fff" stroke-width="1.38"/>
<ellipse cx="814.5" cy="252.7" rx="3.8" ry="8.0" transform="rotate(13.6 814.5 252.7)" fill="#fff" stroke-width="1.50" />
<ellipse cx="816.0" cy="253.2" rx="3.6" ry="7.6" transform="rotate(13.6 816.0 253.2)" fill="#fff" stroke-width="1.25" />
<path d="M822.0,250.6 L819.0,246.9 L813.8,249.7 L817.8,251.1 L823.0,248.2 L826.0,251.9 Z" fill="#fff" stroke-width="1.12"/>
<path d="M814.6,260.1 L819.8,257.2 L822.0,250.6 L826.0,251.9 L823.8,258.6 L818.5,261.5 Z" fill="#fff" stroke-width="1.12"/>
<path d="M813.8,249.7 L811.6,256.4 L814.6,260.1 L818.5,261.5 L815.5,257.7 L817.8,251.1 Z" fill="#fff" stroke-width="1.12"/>
<line x1="819.0" y1="246.9" x2="823.0" y2="248.2" stroke-width="1.12"/>
<path d="M818.5,261.5 L823.8,258.6 L826.0,251.9 L823.0,248.2 L817.8,251.1 L815.5,257.7 Z" fill="#fff" stroke-width="1.38"/>
<text transform="translate(838.0,262.9) scale(0.68,1)" font-size="20.5" text-anchor="start">3</text>
<line x1="827.0" y1="256.5" x2="834.6" y2="256.5" stroke-width="1.25"/>
<path d="M697.7,301.5 L706.9,304.6 L743.1,284.2 L760,290" fill="none" stroke-width="1.00" class="cl"/>
<path d="M808.2,311.0 L761.2,295.8 Q758.5,295.0 759.8,291.0 Q761.1,287.0 763.8,287.8 L810.8,303.0" fill="#fff" stroke-width="1.38"/>
<ellipse cx="809.5" cy="307.0" rx="3.8" ry="8.0" transform="rotate(12.9 809.5 307.0)" fill="#fff" stroke-width="1.50" />
<ellipse cx="811.0" cy="307.5" rx="3.6" ry="7.6" transform="rotate(12.9 811.0 307.5)" fill="#fff" stroke-width="1.25" />
<path d="M817.0,304.8 L813.9,301.0 L808.7,303.9 L812.7,305.2 L817.9,302.3 L821.0,306.1 Z" fill="#fff" stroke-width="1.12"/>
<path d="M809.6,314.4 L814.8,311.5 L817.0,304.8 L821.0,306.1 L818.8,312.8 L813.6,315.7 Z" fill="#fff" stroke-width="1.12"/>
<path d="M808.7,303.9 L806.6,310.6 L809.6,314.4 L813.6,315.7 L810.6,311.9 L812.7,305.2 Z" fill="#fff" stroke-width="1.12"/>
<line x1="813.9" y1="301.0" x2="817.9" y2="302.3" stroke-width="1.12"/>
<path d="M813.6,315.7 L818.8,312.8 L821.0,306.1 L817.9,302.3 L812.7,305.2 L810.6,311.9 Z" fill="#fff" stroke-width="1.38"/>
<text transform="translate(828.0,318.5) scale(0.68,1)" font-size="20.5" text-anchor="start">2</text>
<line x1="821.3" y1="309.2" x2="827.7" y2="309.2" stroke-width="1.25"/>
<path d="M848.0,463.2 L781.6,441.5 Q778.9,440.6 780.2,436.7 Q781.5,432.7 784.2,433.5 L850.6,455.2" fill="#fff" stroke-width="1.38"/>
<ellipse cx="849.3" cy="459.2" rx="3.8" ry="8.0" transform="rotate(13.1 849.3 459.2)" fill="#fff" stroke-width="1.50" />
<ellipse cx="850.8" cy="459.7" rx="3.6" ry="7.6" transform="rotate(13.1 850.8 459.7)" fill="#fff" stroke-width="1.25" />
<path d="M856.8,457.0 L853.7,453.2 L848.5,456.1 L852.5,457.4 L857.7,454.6 L860.8,458.3 Z" fill="#fff" stroke-width="1.12"/>
<path d="M849.4,466.6 L854.6,463.7 L856.8,457.0 L860.8,458.3 L858.6,465.0 L853.4,467.9 Z" fill="#fff" stroke-width="1.12"/>
<path d="M848.5,456.1 L846.4,462.8 L849.4,466.6 L853.4,467.9 L850.4,464.1 L852.5,457.4 Z" fill="#fff" stroke-width="1.12"/>
<line x1="853.7" y1="453.2" x2="857.7" y2="454.6" stroke-width="1.12"/>
<path d="M853.4,467.9 L858.6,465.0 L860.8,458.3 L857.7,454.6 L852.5,457.4 L850.4,464.1 Z" fill="#fff" stroke-width="1.38"/>
<text transform="translate(836.7,440.8) scale(0.68,1)" font-size="20.5" text-anchor="start">3</text>
<line x1="839.6" y1="441.7" x2="839.6" y2="450.0" stroke-width="1.25"/>
<path d="M764.3,455.5 L697.9,433.8 Q695.2,432.9 696.5,429.0 Q697.8,425.0 700.5,425.8 L766.9,447.5" fill="#fff" stroke-width="1.38"/>
<ellipse cx="765.6" cy="451.5" rx="3.8" ry="8.0" transform="rotate(13.1 765.6 451.5)" fill="#fff" stroke-width="1.50" />
<ellipse cx="767.1" cy="452.0" rx="3.6" ry="7.6" transform="rotate(13.1 767.1 452.0)" fill="#fff" stroke-width="1.25" />
<path d="M773.1,449.3 L770.0,445.5 L764.8,448.4 L768.8,449.7 L774.0,446.9 L777.1,450.6 Z" fill="#fff" stroke-width="1.12"/>
<path d="M765.7,458.9 L770.9,456.0 L773.1,449.3 L777.1,450.6 L774.9,457.3 L769.7,460.2 Z" fill="#fff" stroke-width="1.12"/>
<path d="M764.8,448.4 L762.7,455.1 L765.7,458.9 L769.7,460.2 L766.7,456.4 L768.8,449.7 Z" fill="#fff" stroke-width="1.12"/>
<line x1="770.0" y1="445.5" x2="774.0" y2="446.9" stroke-width="1.12"/>
<path d="M769.7,460.2 L774.9,457.3 L777.1,450.6 L774.0,446.9 L768.8,449.7 L766.7,456.4 Z" fill="#fff" stroke-width="1.38"/>
<text transform="translate(785.4,458.0) scale(0.68,1)" font-size="20.5" text-anchor="start">3</text>
<line x1="777.1" y1="449.4" x2="784.8" y2="449.4" stroke-width="1.25"/>
<path d="M837.0,500.2 L770.6,478.4 Q767.9,477.5 769.2,473.6 Q770.6,469.6 773.2,470.4 L839.6,492.3" fill="#fff" stroke-width="1.38"/>
<ellipse cx="838.3" cy="496.3" rx="3.8" ry="8.0" transform="rotate(13.2 838.3 496.3)" fill="#fff" stroke-width="1.50" />
<ellipse cx="839.8" cy="496.8" rx="3.6" ry="7.6" transform="rotate(13.2 839.8 496.8)" fill="#fff" stroke-width="1.25" />
<path d="M845.8,494.1 L842.8,490.4 L837.6,493.2 L841.5,494.6 L846.8,491.7 L849.8,495.4 Z" fill="#fff" stroke-width="1.12"/>
<path d="M838.4,503.7 L843.6,500.8 L845.8,494.1 L849.8,495.4 L847.6,502.1 L842.4,505.0 Z" fill="#fff" stroke-width="1.12"/>
<path d="M837.6,493.2 L835.4,499.9 L838.4,503.7 L842.4,505.0 L839.4,501.2 L841.5,494.6 Z" fill="#fff" stroke-width="1.12"/>
<line x1="842.8" y1="490.4" x2="846.8" y2="491.7" stroke-width="1.12"/>
<path d="M842.4,505.0 L847.6,502.1 L849.8,495.4 L846.8,491.7 L841.5,494.6 L839.4,501.2 Z" fill="#fff" stroke-width="1.38"/>
<text transform="translate(857.9,499.4) scale(0.68,1)" font-size="20.5" text-anchor="start">3</text>
<line x1="850.2" y1="494.2" x2="857.3" y2="494.2" stroke-width="1.25"/>
<path d="M736.2,512.2 L679.2,494.6 Q676.5,493.8 677.7,489.8 Q679.0,485.8 681.7,486.6 L738.7,504.2" fill="#fff" stroke-width="1.38"/>
<ellipse cx="737.5" cy="508.2" rx="3.8" ry="8.0" transform="rotate(12.2 737.5 508.2)" fill="#fff" stroke-width="1.50" />
<ellipse cx="739.0" cy="508.7" rx="3.6" ry="7.6" transform="rotate(12.2 739.0 508.7)" fill="#fff" stroke-width="1.25" />
<path d="M744.9,506.0 L741.8,502.2 L736.7,505.2 L740.7,506.4 L745.9,503.5 L748.9,507.3 Z" fill="#fff" stroke-width="1.12"/>
<path d="M737.7,515.6 L742.9,512.7 L744.9,506.0 L748.9,507.3 L746.9,513.9 L741.7,516.9 Z" fill="#fff" stroke-width="1.12"/>
<path d="M736.7,505.2 L734.6,511.8 L737.7,515.6 L741.7,516.9 L738.6,513.1 L740.7,506.4 Z" fill="#fff" stroke-width="1.12"/>
<line x1="741.8" y1="502.2" x2="745.9" y2="503.5" stroke-width="1.12"/>
<path d="M741.7,516.9 L746.9,513.9 L748.9,507.3 L745.9,503.5 L740.7,506.4 L738.6,513.1 Z" fill="#fff" stroke-width="1.38"/>
<text transform="translate(757.9,511.0) scale(0.68,1)" font-size="20.5" text-anchor="start">3</text>
<line x1="749.2" y1="505.8" x2="757.5" y2="505.8" stroke-width="1.25"/>
<path d="M688.3,375.6 L688.5,403 L779.8,433.8" fill="none" stroke-width="1.00" class="cl"/>
<ellipse cx="710.9" cy="369.5" rx="19.5" ry="26.5" transform="rotate(11.0 710.9 369.5)" fill="#fff" stroke-width="1.25"/>
<path d="M712.4,396.8 L705.9,395.5 L716.0,343.5 L722.6,344.8 Z" fill="#fff" style="stroke:none"/>
<line x1="712.4" y1="396.8" x2="705.9" y2="395.5" stroke-width="1.25"/>
<line x1="722.6" y1="344.8" x2="716.0" y2="343.5" stroke-width="1.25"/>
<ellipse cx="717.5" cy="370.8" rx="19.5" ry="26.5" transform="rotate(11.0 717.5 370.8)" fill="#fff" stroke-width="1.25"/>
<ellipse cx="717.5" cy="370.8" rx="19.5" ry="26.5" transform="rotate(11.0 717.5 370.8)" fill="none" stroke-width="1.50" />
<ellipse cx="718.5" cy="371.0" rx="13.6" ry="18.6" transform="rotate(11.0 718.5 371.0)" fill="none" stroke-width="1.38" />
<ellipse cx="719.0" cy="371.3" rx="10.8" ry="15.5" transform="rotate(11.0 719.0 371.3)" fill="none" stroke-width="1.25" />
<path d="M712.5,359 C708,366 708,377 714,384" fill="none" stroke-width="1.12"/>
<path d="M722,357.5 C727,365 727,378 721,385" fill="none" stroke-width="1.12"/>
<text transform="translate(711.7,333.8) scale(0.68,1)" font-size="20.5" text-anchor="start">13</text>
<line x1="717.5" y1="335.2" x2="717.5" y2="343.8" stroke-width="1.25"/>
<path d="M769.5,360.0 L772.4,360.5 L775.2,361.4 L777.8,362.8 L780.2,364.7 L782.4,367.0 L784.3,369.6 L785.9,372.6 L787.1,375.9 L788.0,379.4 L788.5,383.0 L788.7,386.8 L788.5,390.6 L787.9,394.4 L786.9,398.1 L785.6,401.7 L783.9,405.1 L781.9,408.2 L779.7,411.0 L777.3,413.4 L774.6,415.5 L771.8,417.1 L768.9,418.2 L766.0,418.9 L763.0,419.1 L760.1,418.8 L757.3,418.0 L754.6,416.7 L752.2,415.0 L749.9,412.8 L747.9,410.3 L746.2,407.4 L744.8,404.2 L743.8,400.8 L743.2,397.2 L742.9,393.4 L743.0,389.6 L743.5,385.8 L744.4,382.1 L745.6,378.4 L747.1,375.0 L749.5,376.6 L748.1,379.7 L747.0,382.9 L746.3,386.3 L745.8,389.7 L745.7,393.1 L745.9,396.4 L746.5,399.6 L747.4,402.7 L748.6,405.5 L750.0,408.1 L751.8,410.3 L753.8,412.2 L755.9,413.8 L758.3,414.9 L760.7,415.6 L763.3,415.9 L765.9,415.7 L768.4,415.1 L771.0,414.1 L773.4,412.6 L775.8,410.8 L777.9,408.6 L779.9,406.1 L781.6,403.3 L783.1,400.3 L784.3,397.1 L785.1,393.8 L785.7,390.4 L785.9,387.0 L785.8,383.7 L785.3,380.4 L784.5,377.3 L783.4,374.4 L782.1,371.7 L780.4,369.4 L778.5,367.3 L776.4,365.7 L774.1,364.4 L771.7,363.6 L769.2,363.2 Z" fill="#fff" stroke-width="1.38"/>
<path d="M761.7,361.2 L772.3,359.2 L773.5,365.4 L763.1,367.9 Z" fill="#fff" stroke-width="1.38"/>
<ellipse cx="768.5" cy="363.1" rx="1.0" ry="1.0" transform="rotate(0.0 768.5 363.1)" fill="none" stroke-width="1.50"/>
<path d="M751.2,370.4 L755.6,374.6 L752.1,384.2 L747.3,381.9 Z" fill="#fff" stroke-width="1.38"/>
<ellipse cx="751.5" cy="378.1" rx="1.0" ry="1.0" transform="rotate(0.0 751.5 378.1)" fill="none" stroke-width="1.50"/>
<text transform="translate(768.8,349.6) scale(0.68,1)" font-size="20.5" text-anchor="start">12</text>
<line x1="775.6" y1="351.2" x2="775.6" y2="359.2" stroke-width="1.25"/>
<path d="M676.0,197.7 L682.3,188.5" fill="none" stroke-width="1.38"/>
<path d="M688.1,204.8 L693.8,194.2" fill="none" stroke-width="1.38"/>
<path d="M676.0,197.7 C676.2,198.5 676.4,201.3 677.5,202.5 C678.6,203.7 680.5,204.6 682.3,205.0 C684.1,205.4 687.1,204.8 688.1,204.8" fill="none" stroke-width="2.00"/>
<path d="M676.9,196.2 C677.2,196.9 677.8,199.4 678.8,200.6 C679.9,201.7 681.7,202.7 683.3,203.1 C684.9,203.5 687.6,203.1 688.5,203.1" fill="none" stroke-width="1.12"/>
<path d="M682.3,188.5 C682.9,188.3 684.6,187.4 686.2,187.7 C687.8,187.9 690.6,188.9 691.9,190.0 C693.2,191.1 693.5,193.5 693.8,194.2" fill="none" stroke-width="1.38"/>
<path d="M682.3,188.5 C682.5,189.0 682.1,190.9 683.3,191.9 C684.4,193.0 687.3,194.4 689.0,194.8 C690.8,195.2 693.0,194.3 693.8,194.2" fill="none" stroke-width="1.25"/>
<line x1="679.2" y1="204.6" x2="660.8" y2="236.2" stroke-width="1.00" class="cl"/>
<text transform="translate(675.6,177.5) scale(0.68,1)" font-size="20.5" text-anchor="start">14</text>
<line x1="683.3" y1="179.4" x2="683.3" y2="187.1" stroke-width="1.25"/>
<ellipse cx="594.4" cy="114.0" rx="12.5" ry="5.6" transform="rotate(0.0 594.4 114.0)" fill="#fff" stroke-width="1.50"/>
<ellipse cx="594.4" cy="114.0" rx="10.4" ry="4.2" transform="rotate(0.0 594.4 114.0)" fill="none" stroke-width="1.38"/>
<ellipse cx="594.4" cy="114.4" rx="9.2" ry="3.5" transform="rotate(0.0 594.4 114.4)" fill="none" stroke-width="1.12"/>
<path d="M581.9,114.0 L581.9,119.2" fill="none" stroke-width="1.38"/>
<path d="M606.9,114.0 L606.9,119.2" fill="none" stroke-width="1.38"/>
<path d="M581.9,119.2 C582.9,119.9 585.0,122.4 588.1,123.1 C591.2,123.7 597.4,123.7 600.6,123.1 C603.7,122.4 605.9,119.9 606.9,119.2" fill="none" stroke-width="1.38"/>
<path d="M583.3,120.8 L583.3,135.4" fill="none" stroke-width="1.38"/>
<path d="M606.0,120.8 L606.0,135.4" fill="none" stroke-width="1.38"/>
<path d="M583.3,135.4 C584.2,135.9 586.2,137.9 589.0,138.5 C591.8,139.0 597.2,139.0 600.0,138.5 C602.8,137.9 605.0,135.9 606.0,135.4" fill="none" stroke-width="1.38"/>
<path d="M584.6,136.7 L584.6,155.8" fill="none" stroke-width="1.38"/>
<path d="M604.2,136.7 L604.2,155.8" fill="none" stroke-width="1.38"/>
<path d="M584.6,155.8 C585.4,156.3 587.2,158.7 589.6,159.2 C592.1,159.8 596.8,159.8 599.2,159.2 C601.7,158.7 603.4,156.3 604.2,155.8" fill="none" stroke-width="1.38"/>
<path d="M594.4,159.2 L594.4,169.8" fill="none" stroke-width="1.12"/>
<text transform="translate(614.0,141.5) scale(0.68,1)" font-size="20.5" text-anchor="start">15</text>
<line x1="606.9" y1="135.2" x2="613.0" y2="135.2" stroke-width="1.25"/>
<path d="M486.3,97.5 L490.2,112.9" fill="none" stroke-width="1.38"/>
<path d="M495.4,96.9 L498.5,111.0" fill="none" stroke-width="1.38"/>
<path d="M490.2,112.9 C490.8,113.1 492.7,114.7 494.0,114.4 C495.4,114.1 497.7,111.5 498.5,111.0" fill="none" stroke-width="1.38"/>
<ellipse cx="490.2" cy="94.6" rx="7.7" ry="3.3" transform="rotate(-8.0 490.2 94.6)" fill="#fff" stroke-width="1.50"/>
<ellipse cx="490.2" cy="93.7" rx="7.3" ry="2.9" transform="rotate(-8.0 490.2 93.7)" fill="#fff" stroke-width="1.25"/>
<path d="M483.5,92.7 L483.1,87.9 L487.7,84.6 L493.5,85.0 L496.5,88.5 L496.5,92.3" fill="#fff" stroke-width="1.38"/>
<path d="M483.1,87.9 L487.3,90.4 L493.5,89.8 L496.5,88.5" fill="none" stroke-width="1.12"/>
<path d="M487.3,90.4 L487.7,94.6" fill="none" stroke-width="1.12"/>
<path d="M493.5,89.8 L493.7,94.2" fill="none" stroke-width="1.12"/>
<path d="M494.0,114.8 L499.2,136.0" fill="none" stroke-width="1.00" class="cl"/>
<text transform="translate(481.9,73.5) scale(0.68,1)" font-size="20.5" text-anchor="start">16</text>
<line x1="489.6" y1="76.3" x2="489.6" y2="83.0" stroke-width="1.25"/>
<defs><pattern id="xh" width="4.4" height="4.4" patternUnits="userSpaceOnUse" patternTransform="rotate(20)"><rect width="4.4" height="4.4" fill="#fff" style="stroke:none"/><path d="M0,0 L4.4,4.4 M4.4,0 L0,4.4" stroke-width="1.1"/></pattern></defs>
<path d="M496.9,157.7 L535.4,147.5 L536.5,155.2 L527.7,157.5 L537.3,187.9 L517.1,193.7 L507.5,164.8 L497.9,167.3 Z" fill="url(#xh)" stroke-width="1.62"/>
<path d="M514.2,161.9 L524.8,158.7 L532.5,186.9 L521.9,190.8 Z" fill="#fff" stroke-width="1.38"/>
<path d="M496.9,157.7 L481.2,161.9 L482.5,169.2 L497.9,167.3" fill="#fff" stroke-width="1.50"/>
<path d="M486.3,160.6 L487.7,168.7" fill="none" stroke-width="1.12"/>
<path d="M481.9,161.7 L483.1,169.0" fill="none" stroke-width="0.88"/>
<path d="M483.1,161.3 L484.2,168.8" fill="none" stroke-width="0.88"/>
<path d="M484.2,161.2 L485.4,168.7" fill="none" stroke-width="0.88"/>
<path d="M485.4,160.8 L486.5,168.5" fill="none" stroke-width="0.88"/>
<path d="M495.4,158.1 L496.5,167.3" fill="none" stroke-width="2.00"/>
<text transform="translate(514.2,140.8) scale(0.68,1)" font-size="20.5" text-anchor="start">17</text>
<line x1="521.3" y1="143.7" x2="521.3" y2="147.5" stroke-width="1.25"/>
<ellipse cx="531.9" cy="212.1" rx="11.2" ry="5.2" transform="rotate(-8.0 531.9 212.1)" fill="none" stroke-width="1.50"/>
<ellipse cx="531.9" cy="212.1" rx="8.8" ry="3.5" transform="rotate(-8.0 531.9 212.1)" fill="none" stroke-width="1.38"/>
<path d="M531.9,206.9 L536.7,235.8" fill="none" stroke-width="1.00" class="cl"/>
<text transform="translate(495.0,220.8) scale(0.68,1)" font-size="20.5" text-anchor="start">24</text>
<line x1="510.8" y1="213.7" x2="520.0" y2="213.7" stroke-width="1.25"/>
<path d="M473.8,206.9 L476.7,220.4" fill="none" stroke-width="1.38"/>
<path d="M485.4,204.6 L487.7,217.5" fill="none" stroke-width="1.38"/>
<path d="M476.7,220.4 C477.6,220.7 480.1,222.6 481.9,222.1 C483.8,221.6 486.7,218.3 487.7,217.5" fill="none" stroke-width="1.38"/>
<ellipse cx="479.6" cy="205.6" rx="5.8" ry="2.5" transform="rotate(-10.0 479.6 205.6)" fill="#fff" stroke-width="1.38"/>
<text transform="translate(472.3,193.0) scale(0.68,1)" font-size="20.5" text-anchor="start">18</text>
<line x1="477.1" y1="195.4" x2="477.1" y2="203.0" stroke-width="1.25"/>
<path d="M330,418.8 L264.6,457 L271.5,459" fill="none" stroke-width="1.00" class="cl"/>
<path d="M318.9,479.2 L272.9,463.8 Q270.2,462.9 271.5,458.9 Q272.9,455.0 275.5,455.9 L321.5,471.2" fill="#fff" stroke-width="1.38"/>
<ellipse cx="320.2" cy="475.2" rx="3.8" ry="8.0" transform="rotate(13.5 320.2 475.2)" fill="#fff" stroke-width="1.50" />
<ellipse cx="321.7" cy="475.7" rx="3.6" ry="7.6" transform="rotate(13.5 321.7 475.7)" fill="#fff" stroke-width="1.25" />
<path d="M327.7,473.1 L324.7,469.4 L319.5,472.2 L323.5,473.6 L328.7,470.7 L331.7,474.4 Z" fill="#fff" stroke-width="1.12"/>
<path d="M320.3,482.6 L325.5,479.7 L327.7,473.1 L331.7,474.4 L329.5,481.1 L324.2,484.0 Z" fill="#fff" stroke-width="1.12"/>
<path d="M319.5,472.2 L317.3,478.9 L320.3,482.6 L324.2,484.0 L321.2,480.2 L323.5,473.6 Z" fill="#fff" stroke-width="1.12"/>
<line x1="324.7" y1="469.4" x2="328.7" y2="470.7" stroke-width="1.12"/>
<path d="M324.2,484.0 L329.5,481.1 L331.7,474.4 L328.7,470.7 L323.5,473.6 L321.2,480.2 Z" fill="#fff" stroke-width="1.38"/>
<text transform="translate(299.8,499.5) scale(0.68,1)" font-size="20.5" text-anchor="start">2</text>
<line x1="303.8" y1="470.5" x2="303.8" y2="484.0" stroke-width="1.25"/>
<path d="M428.1,512.3 L406.0,525.8 L419.4,530.6" fill="none" stroke-width="1.00" class="cl"/>
<path d="M468.2,552.0 L421.0,537.1 Q418.4,536.3 419.6,532.3 Q420.9,528.3 423.6,529.1 L470.7,544.0" fill="#fff" stroke-width="1.38"/>
<ellipse cx="469.5" cy="548.0" rx="3.8" ry="8.0" transform="rotate(12.5 469.5 548.0)" fill="#fff" stroke-width="1.50" />
<ellipse cx="471.0" cy="548.5" rx="3.6" ry="7.6" transform="rotate(12.5 471.0 548.5)" fill="#fff" stroke-width="1.25" />
<path d="M476.9,545.8 L473.9,542.0 L468.7,544.9 L472.7,546.2 L477.9,543.3 L480.9,547.1 Z" fill="#fff" stroke-width="1.12"/>
<path d="M469.7,555.4 L474.8,552.5 L476.9,545.8 L480.9,547.1 L478.8,553.8 L473.7,556.7 Z" fill="#fff" stroke-width="1.12"/>
<path d="M468.7,544.9 L466.6,551.6 L469.7,555.4 L473.7,556.7 L470.6,552.9 L472.7,546.2 Z" fill="#fff" stroke-width="1.12"/>
<line x1="473.9" y1="542.0" x2="477.9" y2="543.3" stroke-width="1.12"/>
<path d="M473.7,556.7 L478.8,553.8 L480.9,547.1 L477.9,543.3 L472.7,546.2 L470.6,552.9 Z" fill="#fff" stroke-width="1.38"/>
<text transform="translate(442.5,570.0) scale(0.68,1)" font-size="20.5" text-anchor="start">2</text>
<line x1="446.0" y1="546.0" x2="446.0" y2="553.7" stroke-width="1.25"/>
<path d="M514.6,536.3 L484.8,553.7 L506.0,560.4" fill="none" stroke-width="1.00" class="cl"/>
<path d="M571.0,588.1 L507.4,565.9 Q504.8,565.0 506.1,561.0 Q507.5,557.1 510.2,558.0 L573.8,580.1" fill="#fff" stroke-width="1.38"/>
<ellipse cx="572.4" cy="584.1" rx="3.8" ry="8.0" transform="rotate(14.2 572.4 584.1)" fill="#fff" stroke-width="1.50" />
<ellipse cx="573.9" cy="584.6" rx="3.6" ry="7.6" transform="rotate(14.2 573.9 584.6)" fill="#fff" stroke-width="1.25" />
<path d="M580.0,582.0 L577.0,578.3 L571.7,581.1 L575.7,582.5 L581.0,579.6 L583.9,583.4 Z" fill="#fff" stroke-width="1.12"/>
<path d="M572.4,591.5 L577.7,588.6 L580.0,582.0 L583.9,583.4 L581.6,590.0 L576.4,592.9 Z" fill="#fff" stroke-width="1.12"/>
<path d="M571.7,581.1 L569.4,587.7 L572.4,591.5 L576.4,592.9 L573.4,589.1 L575.7,582.5 Z" fill="#fff" stroke-width="1.12"/>
<line x1="577.0" y1="578.3" x2="581.0" y2="579.6" stroke-width="1.12"/>
<path d="M576.4,592.9 L581.6,590.0 L583.9,583.4 L581.0,579.6 L575.7,582.5 L573.4,589.1 Z" fill="#fff" stroke-width="1.38"/>
<text transform="translate(534.8,600.8) scale(0.68,1)" font-size="20.5" text-anchor="start">3</text>
<line x1="537.7" y1="576.7" x2="537.7" y2="585.4" stroke-width="1.25"/>
<path d="M560.8,533.5 L544.4,543.1 L556.9,547.3" fill="none" stroke-width="1.00" class="cl"/>
<path d="M624.2,576.4 L558.4,553.4 Q555.8,552.5 557.1,548.5 Q558.5,544.6 561.2,545.5 L627.0,568.4" fill="#fff" stroke-width="1.38"/>
<ellipse cx="625.6" cy="572.4" rx="3.8" ry="8.0" transform="rotate(14.2 625.6 572.4)" fill="#fff" stroke-width="1.50" />
<ellipse cx="627.1" cy="572.9" rx="3.6" ry="7.6" transform="rotate(14.2 627.1 572.9)" fill="#fff" stroke-width="1.25" />
<path d="M633.2,570.3 L630.2,566.6 L624.9,569.4 L628.9,570.8 L634.2,567.9 L637.1,571.7 Z" fill="#fff" stroke-width="1.12"/>
<path d="M625.6,579.8 L630.9,576.9 L633.2,570.3 L637.1,571.7 L634.8,578.3 L629.6,581.2 Z" fill="#fff" stroke-width="1.12"/>
<path d="M624.9,569.4 L622.6,576.0 L625.6,579.8 L629.6,581.2 L626.6,577.4 L628.9,570.8 Z" fill="#fff" stroke-width="1.12"/>
<line x1="630.2" y1="566.6" x2="634.2" y2="567.9" stroke-width="1.12"/>
<path d="M629.6,581.2 L634.8,578.3 L637.1,571.7 L634.2,567.9 L628.9,570.8 L626.6,577.4 Z" fill="#fff" stroke-width="1.38"/>
<text transform="translate(588.0,590.0) scale(0.68,1)" font-size="20.5" text-anchor="start">3</text>
<line x1="591.5" y1="566.0" x2="591.5" y2="573.7" stroke-width="1.25"/>
<ellipse cx="640.0" cy="537.5" rx="18.3" ry="22.7" transform="rotate(11.0 640.0 537.5)" fill="#fff" stroke-width="1.50"/>
<ellipse cx="640.8" cy="537.7" rx="15.4" ry="19.8" transform="rotate(11.0 640.8 537.7)" fill="none" stroke-width="1.38"/>
<ellipse cx="641.9" cy="538.1" rx="13.1" ry="17.3" transform="rotate(11.0 641.9 538.1)" fill="none" stroke-width="1.25"/>
<path d="M638.5,523.8 L656.2,526.5 L653.8,557.7 L635.8,553.8 Z" fill="#fff" stroke-width="0.00"/>
<path d="M638.5,523.8 L656.2,526.5" fill="none" stroke-width="1.38"/>
<path d="M635.8,553.8 L653.8,557.7" fill="none" stroke-width="1.38"/>
<ellipse cx="656.9" cy="542.1" rx="10.2" ry="16.2" transform="rotate(11.0 656.9 542.1)" fill="#fff" stroke-width="1.50"/>
<path d="M648.7,531.3 C648.2,533.1 645.6,538.2 645.8,541.9 C645.9,545.6 649.0,551.5 649.6,553.5" fill="none" stroke-width="1.12"/>
<text transform="translate(648.7,582.3) scale(0.68,1)" font-size="20.5" text-anchor="start">4</text>
<line x1="654.4" y1="559.2" x2="654.4" y2="567.3" stroke-width="1.25"/>
<ellipse cx="693.8" cy="555.0" rx="11.9" ry="18.1" transform="rotate(11.0 693.8 555.0)" fill="none" stroke-width="1.50"/>
<ellipse cx="698.1" cy="556.3" rx="11.9" ry="18.1" transform="rotate(11.0 698.1 556.3)" fill="none" stroke-width="1.50"/>
<ellipse cx="702.7" cy="557.7" rx="11.9" ry="18.1" transform="rotate(11.0 702.7 557.7)" fill="none" stroke-width="1.50"/>
<ellipse cx="707.3" cy="559.2" rx="11.9" ry="18.1" transform="rotate(11.0 707.3 559.2)" fill="none" stroke-width="1.88"/>
<ellipse cx="711.7" cy="560.6" rx="11.9" ry="18.1" transform="rotate(11.0 711.7 560.6)" fill="none" stroke-width="1.88"/>
<ellipse cx="714.0" cy="561.3" rx="11.9" ry="18.1" transform="rotate(11.0 714.0 561.3)" fill="none" stroke-width="1.88"/>
<ellipse cx="714.0" cy="561.3" rx="10.0" ry="15.8" transform="rotate(11.0 714.0 561.3)" fill="none" stroke-width="1.25"/>
<text transform="translate(693.8,601.5) scale(0.68,1)" font-size="20.5" text-anchor="start">5</text>
<line x1="697.7" y1="577.5" x2="697.7" y2="586.2" stroke-width="1.25"/>
<ellipse cx="751.7" cy="531.7" rx="10.6" ry="13.8" transform="rotate(11.0 751.7 531.7)" fill="#fff" stroke-width="1.62"/>
<ellipse cx="752.1" cy="531.9" rx="6.3" ry="9.2" transform="rotate(11.0 752.1 531.9)" fill="none" stroke-width="1.50"/>
<text transform="translate(771.0,527.9) scale(0.68,1)" font-size="20.5" text-anchor="start">11</text>
<line x1="762.3" y1="523.0" x2="770.4" y2="523.0" stroke-width="1.25"/>
<path d="M788.8,535.8 L780.0,533.1" fill="none" stroke-width="1.38"/>
<path d="M780.0,533.1 C779.2,533.4 776.6,533.8 775.4,535.0 C774.2,536.2 772.9,538.5 772.7,540.4 C772.4,542.3 773.2,545.1 773.8,546.5 C774.5,547.9 776.1,548.5 776.5,548.8" fill="#fff" stroke-width="1.38"/>
<path d="M780.0,533.1 L788.8,535.8 L783.8,551.5 L776.5,548.8" fill="#fff" stroke-width="0.00"/>
<path d="M780.0,533.1 L788.8,535.8" fill="none" stroke-width="1.38"/>
<path d="M776.5,548.8 L783.8,551.5" fill="none" stroke-width="1.38"/>
<path d="M792.3,534.2 C791.4,534.9 788.3,536.2 786.9,538.1 C785.5,540.0 784.4,543.2 784.0,545.8 C783.6,548.3 784.0,551.3 784.8,553.5 C785.5,555.6 786.9,557.5 788.5,558.8 C790.0,560.2 792.9,560.9 793.8,561.3" fill="#fff" stroke-width="1.50"/>
<path d="M793.8,534.6 C793.1,535.3 790.3,537.0 789.1,538.8 C787.9,540.7 786.9,543.3 786.6,545.8 C786.3,548.2 786.4,551.3 787.1,553.5 C787.8,555.7 789.4,557.7 790.8,559.0 C792.1,560.3 794.3,561.1 795.0,561.5" fill="#fff" stroke-width="1.38"/>
<path d="M793.8,534.2 C794.6,534.1 796.4,533.1 798.5,533.5 C800.5,533.8 804.1,534.9 806.2,536.5 C808.2,538.2 809.9,541.3 810.8,543.5 C811.6,545.6 811.7,547.3 811.2,549.6 C810.6,551.9 809.3,555.4 807.7,557.3 C806.1,559.2 803.6,560.4 801.5,561.2 C799.5,561.9 796.9,562.1 795.4,561.6 C793.8,561.1 793.1,559.8 792.3,558.1 C791.5,556.3 791.0,553.7 790.8,551.2 C790.6,548.6 790.6,545.5 791.2,542.7 C791.7,539.9 793.4,535.6 793.8,534.2 C794.3,532.8 793.1,534.4 793.8,534.2 Z" fill="#fff" stroke-width="1.50"/>
<path d="M793.8,538.1 L796.9,539.6 L800.8,538.1" fill="none" stroke-width="1.25"/>
<path d="M796.9,539.6 C796.4,540.5 794.5,543.2 793.8,545.0 C793.2,546.8 793.0,548.6 793.1,550.4 C793.1,552.2 793.7,554.1 794.2,555.8 C794.7,557.5 795.8,559.7 796.2,560.5" fill="none" stroke-width="1.25"/>
<path d="M793.1,550.4 L788.6,551.3" fill="none" stroke-width="1.25"/>
<path d="M790.9,540.8 C790.5,541.6 789.0,544.2 788.5,545.8 C787.9,547.3 787.7,548.5 787.8,550.0 C787.9,551.5 788.6,553.7 789.1,555.0 C789.6,556.3 790.6,557.6 790.9,558.1" fill="none" stroke-width="1.25"/>
<text transform="translate(814.2,542.3) scale(0.68,1)" font-size="20.5" text-anchor="start">10</text>
<line x1="804.6" y1="535.6" x2="813.8" y2="535.6" stroke-width="1.25"/>
<ellipse cx="756.5" cy="577.9" rx="21.5" ry="28.8" transform="rotate(11.0 756.5 577.9)" fill="none" stroke-width="1.62"/>
<ellipse cx="756.5" cy="577.9" rx="17.9" ry="24.6" transform="rotate(11.0 756.5 577.9)" fill="none" stroke-width="1.50"/>
<text transform="translate(738.3,627.9) scale(0.68,1)" font-size="20.5" text-anchor="start">6</text>
<line x1="742.1" y1="604.8" x2="742.1" y2="612.5" stroke-width="1.25"/>
<ellipse cx="815.3" cy="597.5" rx="24.0" ry="33.8" transform="rotate(11.0 815.3 597.5)" fill="#fff" stroke-width="1.25"/>
<path d="M816.5,632.2 L808.9,630.7 L821.8,564.4 L829.3,565.8 Z" fill="#fff" style="stroke:none"/>
<line x1="816.5" y1="632.2" x2="808.9" y2="630.7" stroke-width="1.25"/>
<line x1="829.3" y1="565.8" x2="821.8" y2="564.4" stroke-width="1.25"/>
<ellipse cx="822.9" cy="599.0" rx="24.0" ry="33.8" transform="rotate(11.0 822.9 599.0)" fill="#fff" stroke-width="1.25"/>
<ellipse cx="822.9" cy="599.0" rx="24.0" ry="33.8" transform="rotate(11.0 822.9 599.0)" fill="none" stroke-width="1.62" />
<path d="M798.5,586 C795,600 797,618 806,630" fill="none" stroke-width="2.00"/>
<path d="M816.7,596.2 L823.8,590.0 L830.6,594.6 L830.0,603.8 L821.9,610.6 L816.2,605.4 Z" fill="none" stroke-width="1.38"/>
<path d="M816.7,596.2 L821.9,600.0 L830.0,594.6" fill="none" stroke-width="1.12"/>
<path d="M821.9,600.0 L821.9,610.6" fill="none" stroke-width="1.12"/>
<text transform="translate(797.7,651.5) scale(0.68,1)" font-size="20.5" text-anchor="start">7</text>
<line x1="800.8" y1="627.9" x2="800.8" y2="635.6" stroke-width="1.25"/>
<line x1="742.0" y1="486.5" x2="838.0" y2="519.0" stroke-width="1.00" class="cl"/>
<ellipse cx="847.2" cy="523.5" rx="8.8" ry="13.2" transform="rotate(11.0 847.2 523.5)" fill="#fff" stroke-width="1.25"/>
<path d="M857.5,539.0 L844.7,536.5 L849.8,510.6 L862.5,513.0 Z" fill="#fff" style="stroke:none"/>
<line x1="857.5" y1="539.0" x2="844.7" y2="536.5" stroke-width="1.25"/>
<line x1="862.5" y1="513.0" x2="849.8" y2="510.6" stroke-width="1.25"/>
<ellipse cx="860.0" cy="526.0" rx="8.8" ry="13.2" transform="rotate(11.0 860.0 526.0)" fill="#fff" stroke-width="1.25"/>
<ellipse cx="860.0" cy="526.0" rx="8.8" ry="13.2" transform="rotate(11.0 860.0 526.0)" fill="none" stroke-width="1.50" />
<ellipse cx="860.5" cy="526.3" rx="5.9" ry="9.6" transform="rotate(11.0 860.5 526.3)" fill="none" stroke-width="1.88" />
<line x1="857.9" y1="520.2" x2="856.3" y2="532.8" stroke-width="1.12"/>
<line x1="860.1" y1="519.1" x2="858.5" y2="533.9" stroke-width="1.12"/>
<line x1="862.3" y1="519.0" x2="860.7" y2="534.0" stroke-width="1.12"/>
<line x1="864.5" y1="520.1" x2="862.9" y2="532.9" stroke-width="1.12"/>
<text transform="translate(846.9,561.5) scale(0.68,1)" font-size="20.5" text-anchor="start">9</text>
<line x1="850.8" y1="539.4" x2="850.8" y2="547.0" stroke-width="1.25"/>
<line x1="869.0" y1="529.8" x2="880.0" y2="533.8" stroke-width="1.00" class="cl"/>
<ellipse cx="890.9" cy="536.7" rx="12.0" ry="15.8" transform="rotate(11.0 890.9 536.7)" fill="#fff" stroke-width="1.25"/>
<path d="M892.0,553.0 L887.9,552.2 L893.9,521.2 L898.0,522.0 Z" fill="#fff" style="stroke:none"/>
<line x1="892.0" y1="553.0" x2="887.9" y2="552.2" stroke-width="1.25"/>
<line x1="898.0" y1="522.0" x2="893.9" y2="521.2" stroke-width="1.25"/>
<ellipse cx="895.0" cy="537.5" rx="12.0" ry="15.8" transform="rotate(11.0 895.0 537.5)" fill="#fff" stroke-width="1.25"/>
<ellipse cx="895.0" cy="537.5" rx="12.0" ry="15.8" transform="rotate(11.0 895.0 537.5)" fill="none" stroke-width="1.50" />
<ellipse cx="896.0" cy="538.0" rx="8.0" ry="11.0" transform="rotate(11.0 896.0 538.0)" fill="none" stroke-width="1.38" />
<ellipse cx="897.0" cy="538.5" rx="5.2" ry="7.6" transform="rotate(11.0 897.0 538.5)" fill="none" stroke-width="1.38" />
<path d="M892,533 C890,537 890.5,541 893.5,544" fill="none" stroke-width="1.12"/>
<text transform="translate(881.0,576.0) scale(0.68,1)" font-size="20.5" text-anchor="start">8</text>
<line x1="885.0" y1="552.3" x2="885.0" y2="561.5" stroke-width="1.25"/>
<path d="M369.5,530.4 L323.5,514.6 Q320.9,513.7 322.2,509.7 Q323.6,505.8 326.3,506.7 L372.2,522.4" fill="#fff" stroke-width="1.38"/>
<ellipse cx="370.8" cy="526.4" rx="3.8" ry="8.0" transform="rotate(13.9 370.8 526.4)" fill="#fff" stroke-width="1.50" />
<ellipse cx="372.3" cy="526.9" rx="3.6" ry="7.6" transform="rotate(13.9 372.3 526.9)" fill="#fff" stroke-width="1.25" />
<path d="M378.3,524.3 L375.4,520.6 L370.1,523.4 L374.1,524.8 L379.3,521.9 L382.3,525.7 Z" fill="#fff" stroke-width="1.12"/>
<path d="M370.8,533.8 L376.1,530.9 L378.3,524.3 L382.3,525.7 L380.0,532.3 L374.8,535.2 Z" fill="#fff" stroke-width="1.12"/>
<path d="M370.1,523.4 L367.8,530.1 L370.8,533.8 L374.8,535.2 L371.8,531.4 L374.1,524.8 Z" fill="#fff" stroke-width="1.12"/>
<line x1="375.4" y1="520.6" x2="379.3" y2="521.9" stroke-width="1.12"/>
<path d="M374.8,535.2 L380.0,532.3 L382.3,525.7 L379.3,521.9 L374.1,524.8 L371.8,531.4 Z" fill="#fff" stroke-width="1.38"/>
<text transform="translate(367.5,558.8) scale(0.68,1)" font-size="20.5" text-anchor="start">2</text>
<line x1="371.5" y1="536.5" x2="371.5" y2="543.8" stroke-width="1.25"/>
<path d="M376.9,467.7 L311.4,505.5 L321,508.5" fill="none" stroke-width="1.00" class="cl"/>
<line x1="540.0" y1="503.5" x2="794.0" y2="590.4" stroke-width="1.00" class="cl"/>
<line x1="645.4" y1="347.7" x2="764.6" y2="388.1" stroke-width="1.00" class="cl"/>
<line x1="741.0" y1="528.3" x2="775.8" y2="540.0" stroke-width="1.00" class="cl"/>
</svg>
</body></html>
